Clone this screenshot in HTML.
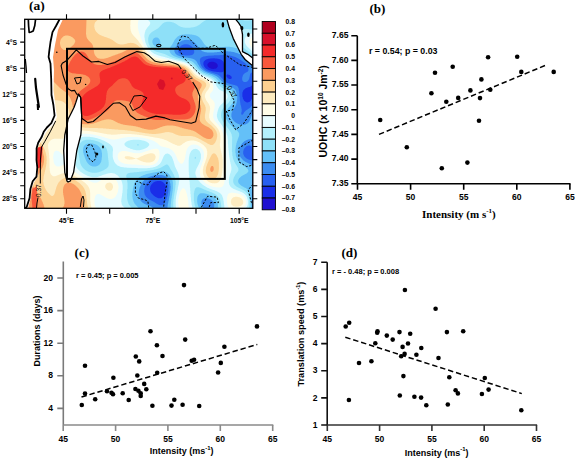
<!DOCTYPE html>
<html><head><meta charset="utf-8"><style>
html,body{margin:0;padding:0;background:#fff;width:575px;height:458px;overflow:hidden}
svg{display:block}
</style></head><body>
<svg width="575" height="458" viewBox="0 0 575 458">
<rect width="575" height="458" fill="#fff"/>
<clipPath id="mc"><rect x="24.7" y="19.3" width="228.1" height="189.0"/></clipPath>
<g clip-path="url(#mc)">
<rect x="24.7" y="19.3" width="228.1" height="189.0" fill="#2010d0"/>
<path fill-rule="evenodd" fill="#1a2ee8" d="M207.4 64.3L208.9 62.5L209.9 62.0L210.7 62.0L210.9 61.8L213.2 61.8L215.9 62.8L217.2 64.0L217.7 65.0L217.7 66.8L216.4 68.3L215.4 68.8L214.2 68.8L213.9 69.0L211.4 68.8L209.2 67.8L207.7 66.3L207.7 65.8L207.4 65.5ZM24.7 19.3L24.7 208.1L252.4 208.1L252.4 19.3Z"/>
<path fill-rule="evenodd" fill="#2860f0" d="M155.2 181.6L156.7 181.3L156.9 181.1L160.7 181.1L162.9 182.1L165.2 184.6L165.2 185.1L165.7 186.1L165.7 187.1L165.9 187.3L165.9 190.1L165.7 190.3L165.4 192.6L165.2 192.8L164.9 194.1L163.7 196.3L162.2 197.8L161.2 198.3L158.4 198.3L155.7 197.1L153.9 195.8L151.4 193.3L150.4 191.6L150.4 191.1L150.2 190.8L150.2 189.6L149.9 189.3L150.4 186.3L151.2 184.8L153.4 182.6ZM226.4 75.3L227.2 74.5L228.2 74.5L228.4 74.8L229.7 75.0L231.4 76.5L231.7 77.0L231.7 78.3L230.9 79.0L229.2 79.0L227.9 78.3L226.7 76.8ZM203.9 61.5L205.4 60.0L206.9 59.3L207.4 59.3L208.4 58.8L209.4 58.8L209.7 58.5L214.7 58.3L214.9 58.5L217.2 58.5L217.4 58.8L218.4 58.8L218.7 59.0L219.4 59.0L220.2 59.5L220.7 59.5L221.9 60.3L223.2 61.5L223.9 63.0L223.9 63.8L224.2 64.0L224.2 68.5L223.9 68.8L223.9 70.5L223.7 70.8L223.7 71.3L222.9 72.0L222.4 72.0L222.2 72.3L219.2 72.3L218.9 72.0L216.7 72.0L216.4 71.8L213.4 71.5L213.2 71.3L212.2 71.3L211.9 71.0L211.2 71.0L210.9 70.8L208.9 70.3L205.9 68.5L204.2 66.5L203.4 64.5L203.4 62.8ZM24.7 19.3L24.7 208.1L252.4 208.1L252.4 96.3L252.2 98.0L250.9 100.5L249.7 101.8L247.7 102.5L246.2 102.3L244.2 100.8L242.9 98.5L242.9 97.8L242.4 96.5L242.4 92.8L243.4 90.3L245.7 88.3L248.2 87.3L249.7 87.0L251.2 86.3L252.2 85.0L252.2 84.5L252.4 84.3L252.4 19.3Z"/>
<path fill-rule="evenodd" fill="#3c8cf0" d="M152.4 178.8L152.9 178.8L153.9 178.3L154.7 178.3L154.9 178.1L155.7 178.1L155.9 177.8L157.9 177.8L158.2 177.6L161.4 177.8L161.7 178.1L163.7 178.6L164.2 179.1L164.9 179.3L166.9 181.3L167.9 183.3L168.2 184.8L168.4 185.1L168.4 191.3L168.2 191.6L168.2 192.8L167.9 193.1L167.9 194.1L167.7 194.3L167.4 196.3L167.2 196.6L166.2 200.1L164.4 203.3L162.2 205.3L159.9 205.3L159.7 205.1L159.2 205.1L156.7 203.8L153.7 201.8L149.2 199.6L146.2 197.1L144.7 194.6L144.4 192.6L144.2 192.3L144.2 189.8L144.4 189.6L144.4 188.3L144.7 188.1L144.9 186.6L146.4 183.6L147.4 182.6L147.4 182.3L149.7 180.3ZM178.4 49.0L179.2 47.8L181.4 45.5L183.4 44.5L184.2 44.5L184.4 44.3L187.4 44.3L187.7 44.5L188.4 44.5L191.4 46.3L192.9 48.0L193.7 49.3L193.7 49.8L194.2 50.8L194.2 53.0L192.7 54.8L192.2 54.8L191.2 55.3L190.2 55.3L189.9 55.5L184.9 55.5L184.7 55.3L182.4 55.0L180.2 54.0L178.4 52.3L178.4 51.8L178.2 51.5L178.2 49.8L178.4 49.5ZM24.7 19.3L24.7 208.1L252.4 208.1L252.4 160.3L249.9 160.1L249.7 159.8L248.4 159.6L246.2 158.3L244.2 156.3L243.2 153.8L243.2 151.3L243.4 151.1L243.7 149.6L244.4 148.3L246.4 146.3L248.2 145.6L249.9 145.6L251.2 146.1L252.4 147.3L252.4 105.0L252.4 105.3L249.7 108.0L245.9 110.5L244.2 112.3L243.2 114.0L242.4 114.8L241.7 114.8L241.2 114.0L241.4 112.0L241.7 111.8L241.7 109.0L241.4 108.8L241.4 107.5L241.2 107.3L241.2 106.5L240.9 106.3L240.9 105.5L240.4 104.3L240.4 103.0L240.2 102.8L240.2 101.5L239.9 101.3L239.7 96.8L239.4 96.5L239.4 93.5L239.2 93.3L239.2 91.0L238.9 90.8L238.7 88.5L237.7 86.5L236.2 85.5L235.7 85.5L234.7 85.0L233.9 85.0L233.7 84.8L232.9 84.8L232.7 84.5L231.9 84.5L230.9 84.0L230.2 84.0L226.4 82.5L224.7 81.3L219.9 76.0L218.4 75.0L216.9 74.3L215.7 74.0L214.9 73.5L214.2 73.5L212.4 72.8L211.7 72.8L211.4 72.5L207.9 71.5L205.4 70.3L201.9 67.0L201.7 66.3L200.9 65.3L200.9 64.8L200.4 64.0L200.2 62.3L199.9 62.0L199.9 59.5L200.2 59.3L200.2 58.8L200.9 57.8L203.4 56.5L205.7 56.3L205.9 56.0L207.4 56.0L207.7 55.8L213.9 55.5L214.2 55.3L219.7 55.3L219.9 55.0L225.2 55.0L225.4 55.3L228.4 55.3L228.7 55.5L229.9 55.5L230.2 55.8L231.2 55.8L231.4 56.0L232.2 56.0L232.4 56.3L235.2 57.0L239.2 59.0L244.4 62.5L246.7 64.8L247.9 66.8L247.9 67.3L248.4 68.3L248.4 70.5L248.2 71.0L247.2 72.0L245.9 72.5L244.4 73.5L243.4 74.5L242.7 75.8L242.4 77.3L242.2 77.5L242.2 79.8L242.7 81.0L243.4 81.8L243.9 81.8L244.2 82.0L245.9 82.0L247.2 81.5L248.4 80.3L249.2 78.8L250.2 74.0L250.9 73.0L252.4 72.3L252.4 19.3Z"/>
<path fill-rule="evenodd" fill="#64c0f8" d="M24.7 19.3L24.7 208.1L152.9 208.1L152.9 207.8L151.4 206.8L149.4 205.8L148.9 205.8L148.2 205.3L146.4 204.8L143.9 203.6L142.4 202.6L140.7 200.8L139.2 198.1L139.2 197.3L138.9 197.1L138.9 196.1L138.7 195.8L138.7 192.1L138.9 191.8L138.9 190.6L139.2 190.3L139.2 189.3L139.7 188.3L139.7 187.6L140.9 185.1L140.9 184.6L141.4 184.1L142.7 181.8L145.2 179.3L147.4 177.8L150.2 176.6L150.7 176.6L151.7 176.1L152.4 176.1L152.7 175.8L153.4 175.8L153.7 175.6L156.2 175.3L156.4 175.1L162.2 175.1L162.4 175.3L163.9 175.6L165.9 176.6L167.9 178.3L169.4 180.6L169.4 181.1L169.9 181.8L170.2 183.6L170.4 183.8L170.4 185.8L170.7 186.1L170.4 191.1L170.2 191.3L169.9 194.6L169.7 194.8L169.7 195.8L169.4 196.1L169.4 197.1L169.2 197.3L169.2 198.3L168.9 198.6L168.9 199.6L168.7 199.8L168.7 200.8L168.4 201.1L168.4 202.1L168.2 202.3L168.2 203.3L167.9 203.6L167.4 208.1L203.2 208.1L201.7 205.1L201.7 204.3L201.4 204.1L201.4 201.6L202.2 199.8L203.2 198.8L205.2 198.1L206.7 198.1L206.9 198.3L207.9 198.3L208.2 198.6L209.4 198.8L211.2 199.8L212.9 201.6L214.2 204.1L214.2 207.1L213.9 207.3L213.9 208.1L252.4 208.1L252.2 201.6L251.9 201.3L251.9 192.1L252.2 191.8L252.2 190.1L252.4 189.8L252.4 165.8L250.4 164.3L245.7 162.1L243.4 160.6L240.7 157.6L239.9 156.1L239.7 154.6L239.4 154.3L239.4 149.8L239.7 149.6L239.7 148.6L239.9 148.3L239.9 147.6L240.4 146.8L240.4 146.3L241.9 143.8L244.4 141.3L247.2 139.8L247.7 139.8L248.7 139.3L249.9 139.3L250.2 139.1L252.4 139.1L252.4 113.5L251.7 115.0L251.4 116.3L250.9 117.0L250.9 117.5L249.7 120.8L248.7 122.3L247.7 123.3L245.4 124.5L244.7 124.5L244.4 124.8L240.9 124.8L240.7 124.5L239.7 124.5L237.2 123.5L234.9 122.0L233.2 120.3L231.9 118.3L231.9 117.8L231.4 116.8L231.4 113.5L231.7 113.3L231.7 112.5L233.2 109.5L234.2 108.3L236.2 104.5L236.4 103.0L236.7 102.8L236.7 101.8L236.9 101.5L236.9 99.8L237.2 99.5L237.2 96.0L236.9 95.8L236.9 94.0L236.7 93.8L236.7 93.0L236.4 92.8L236.2 91.5L235.2 89.8L232.9 87.8L229.9 86.3L229.4 86.3L228.2 85.5L227.7 85.5L224.4 83.8L221.2 80.8L221.2 80.5L218.7 77.8L216.7 76.3L213.2 74.5L212.7 74.5L212.4 74.3L209.7 73.5L208.9 73.0L207.7 72.8L206.9 72.3L206.4 72.3L202.9 70.3L201.9 69.3L201.7 69.3L199.9 67.3L198.7 65.0L198.2 64.5L196.9 62.0L196.2 61.0L194.4 59.5L191.9 58.5L191.2 58.5L190.9 58.3L188.4 58.0L188.2 57.8L186.7 57.8L186.4 57.5L184.9 57.5L184.7 57.3L183.4 57.3L183.2 57.0L182.2 57.0L181.9 56.8L181.2 56.8L180.9 56.5L179.7 56.3L178.9 55.8L177.9 55.5L176.4 54.5L175.2 53.3L174.4 51.5L174.4 49.8L175.2 47.8L177.7 44.3L179.9 42.0L182.4 40.5L183.9 40.3L184.2 40.0L185.4 40.0L185.7 39.8L189.2 40.0L189.4 40.3L190.2 40.3L190.4 40.5L191.7 40.8L194.2 42.3L196.9 45.0L199.2 48.3L201.7 50.8L202.9 51.5L203.4 51.5L204.4 52.0L205.2 52.0L205.4 52.3L206.7 52.3L206.9 52.5L214.2 52.5L214.4 52.3L216.9 52.3L217.2 52.0L219.4 52.0L219.7 51.8L221.7 51.8L221.9 51.5L225.2 51.5L225.4 51.3L228.2 51.3L228.4 51.5L230.9 51.5L231.2 51.8L233.7 52.0L233.9 52.3L234.7 52.3L234.9 52.5L237.7 53.3L238.4 53.8L238.9 53.8L244.4 56.5L249.9 60.3L252.2 62.5L252.4 63.0L252.4 19.3Z"/>
<path fill-rule="evenodd" fill="#8ee0f8" d="M87.0 143.8L87.5 143.8L87.7 143.6L89.2 143.6L89.5 143.3L91.0 143.3L91.2 143.6L92.7 143.6L93.0 143.8L93.7 143.8L94.0 144.1L94.7 144.1L95.5 144.6L96.0 144.6L98.0 145.8L100.0 147.8L101.5 150.6L101.7 152.6L102.0 152.8L102.0 157.3L101.7 157.6L101.7 159.6L101.5 159.8L101.2 161.8L99.7 164.3L98.2 165.6L96.7 166.3L96.2 166.3L96.0 166.6L92.7 166.6L90.7 165.8L89.2 164.8L88.0 163.6L86.7 161.8L85.7 159.8L85.7 159.3L85.2 158.6L85.2 158.1L84.7 157.3L84.5 156.1L83.7 154.6L83.7 153.8L83.2 152.6L83.0 149.3L83.2 149.1L83.2 147.8L83.5 147.6L83.5 147.1L84.2 145.8L85.5 144.6ZM155.4 37.5L157.2 37.5L158.2 38.0L159.4 39.3L160.2 41.0L160.2 42.3L160.4 42.5L160.2 44.5L159.7 45.5L158.9 46.3L157.9 46.8L156.2 46.8L154.7 46.0L153.2 44.5L152.4 42.8L152.4 40.8L153.2 39.0L153.9 38.3ZM24.7 19.3L24.7 208.1L138.7 208.1L138.7 207.8L138.4 207.8L134.7 203.8L133.4 201.3L133.4 200.8L132.9 199.8L132.9 199.1L132.7 198.8L132.7 197.6L132.4 197.3L132.4 192.1L132.7 191.8L132.9 188.6L133.2 188.3L133.2 187.6L133.4 187.3L133.4 186.6L133.7 186.3L133.7 185.6L133.9 185.3L134.2 184.1L135.4 181.3L136.7 179.6L138.9 177.6L140.9 176.6L141.4 176.1L142.4 175.8L143.7 175.1L144.2 175.1L146.7 174.1L150.4 173.3L150.7 173.1L151.7 173.1L151.9 172.8L152.9 172.8L153.2 172.6L154.4 172.6L154.7 172.3L155.7 172.3L155.9 172.1L157.2 172.1L157.4 171.8L158.9 171.8L159.2 171.6L164.4 171.6L164.7 171.8L165.4 171.8L167.7 173.1L169.7 175.1L170.9 176.8L171.9 178.8L171.9 179.3L172.7 181.1L172.7 182.1L172.9 182.3L172.9 189.1L172.7 189.3L172.7 191.3L172.4 191.6L172.4 193.1L172.2 193.3L172.2 194.6L171.9 194.8L171.9 196.1L171.7 196.3L171.7 197.8L171.4 198.1L171.4 199.3L171.2 199.6L171.2 201.3L170.9 201.6L170.9 204.1L170.7 204.3L170.7 207.3L170.9 207.6L170.9 208.1L199.2 208.1L198.2 206.3L198.2 205.8L197.7 204.8L197.7 204.1L197.4 203.8L197.4 202.6L197.2 202.3L197.2 198.6L197.4 198.3L197.4 197.1L198.2 195.3L199.9 193.6L200.4 193.6L200.7 193.3L204.4 193.3L204.7 193.6L206.4 193.8L207.4 194.3L208.2 194.3L208.9 194.8L210.7 195.3L213.7 197.1L215.9 199.3L217.4 202.1L217.7 203.8L217.9 204.1L217.9 207.6L217.7 208.1L250.9 208.1L250.9 200.8L250.7 200.6L250.7 197.6L250.4 197.3L250.4 195.8L250.2 195.6L250.2 194.6L249.9 194.3L249.9 193.6L249.7 193.3L249.4 192.1L248.9 191.1L247.4 189.3L245.7 188.1L243.9 187.3L243.4 186.8L242.2 186.3L240.7 185.3L238.9 183.6L238.2 182.1L238.2 180.3L239.2 178.3L241.7 176.1L246.9 173.3L248.4 171.6L248.4 170.6L247.7 169.1L245.4 166.8L241.2 163.8L238.4 161.1L237.7 160.1L235.9 156.1L235.7 153.1L235.4 152.8L235.4 148.8L235.7 148.6L235.7 146.8L235.9 146.6L235.9 145.3L236.2 145.1L236.4 143.3L236.9 142.3L236.9 141.6L237.4 140.8L237.9 138.8L238.4 138.1L238.4 137.6L238.9 136.6L238.9 135.8L239.2 135.6L239.2 133.6L238.4 132.1L236.9 130.6L233.9 128.3L228.2 122.3L226.2 118.8L226.2 118.3L225.7 117.3L225.7 116.0L225.4 115.8L225.7 113.0L226.9 110.0L228.7 107.5L230.4 105.8L230.4 105.5L232.2 103.5L233.4 101.0L233.7 99.5L233.9 99.3L233.9 98.3L234.2 98.0L234.2 95.5L233.9 95.3L233.9 94.3L233.2 92.5L230.7 89.8L229.2 88.8L224.4 86.5L222.2 85.0L219.7 82.5L218.7 81.0L215.7 78.0L211.2 75.5L210.7 75.5L209.9 75.0L208.7 74.8L207.9 74.3L206.2 73.8L204.9 73.0L204.4 73.0L200.4 70.5L198.2 68.3L195.7 64.8L193.2 62.3L191.2 61.0L190.7 61.0L189.9 60.5L189.4 60.5L188.4 60.0L187.7 60.0L187.4 59.8L186.7 59.8L185.4 59.3L184.4 59.3L184.2 59.0L183.2 59.0L182.9 58.8L181.9 58.8L181.7 58.5L178.9 58.0L174.2 56.3L171.9 54.8L170.7 53.5L169.7 51.8L169.4 49.8L169.7 49.5L169.9 48.0L170.7 46.5L172.2 44.5L174.9 39.5L177.7 36.5L179.9 35.3L180.4 35.3L181.4 34.8L182.4 34.8L182.7 34.5L184.7 34.5L184.9 34.3L189.4 34.3L189.7 34.5L191.9 34.5L192.2 34.8L193.4 34.8L193.7 35.0L195.4 35.3L197.7 36.3L199.2 37.3L201.4 39.8L204.2 44.0L206.2 46.0L208.4 47.3L208.9 47.3L209.9 47.8L211.2 47.8L211.4 48.0L215.9 48.0L216.2 47.8L218.2 47.8L218.4 47.5L220.2 47.5L220.4 47.3L222.2 47.3L222.4 47.0L224.4 47.0L224.7 46.8L229.9 46.8L230.2 47.0L233.2 47.3L233.4 47.5L234.2 47.5L234.4 47.8L237.2 48.5L238.9 49.5L239.4 49.5L240.4 50.0L240.9 50.5L242.7 51.3L243.2 51.8L246.9 53.8L248.2 54.8L250.9 56.3L252.4 57.5L252.4 19.3Z"/>
<path fill-rule="evenodd" fill="#b4f0fc" d="M195.4 156.8L195.9 157.3L195.9 158.3L195.2 159.1L194.7 158.6L194.7 157.3ZM136.9 144.8L137.7 144.3L138.2 144.3L138.7 144.6L138.9 145.1L138.4 145.6L137.7 145.6L137.2 145.3ZM81.7 141.6L84.0 140.3L84.7 140.3L86.0 139.8L91.0 139.8L91.2 140.1L92.7 140.1L93.0 140.3L94.0 140.3L94.2 140.6L95.0 140.6L95.2 140.8L98.0 141.6L101.0 143.1L103.5 144.8L104.7 146.1L104.7 146.3L105.7 147.3L107.0 149.8L107.0 150.6L107.5 151.8L107.5 153.1L107.7 153.3L108.0 158.1L108.2 158.3L108.2 159.8L108.5 160.1L108.5 161.6L108.7 161.8L108.7 165.3L108.5 165.6L108.5 166.1L108.0 167.1L106.2 168.8L104.7 169.6L104.2 170.1L102.7 170.8L102.2 170.8L101.0 171.6L100.5 171.6L98.0 172.6L97.0 172.6L96.7 172.8L94.7 172.8L94.2 173.1L94.0 172.8L92.0 172.8L91.7 172.6L90.7 172.6L90.5 172.3L88.5 171.8L85.2 170.1L83.0 168.1L81.2 165.6L80.2 163.1L80.0 161.1L79.7 160.8L79.7 159.8L79.5 159.6L79.5 158.1L79.2 157.8L79.0 154.8L78.7 154.6L78.7 152.6L78.5 152.3L78.5 148.3L78.7 148.1L79.0 145.8L80.0 143.6ZM241.7 29.8L238.2 31.8L235.2 34.5L234.4 35.5L233.7 37.3L233.7 38.5L233.9 38.8L233.9 39.3L237.7 43.3L237.9 43.3L238.9 44.3L239.2 44.3L240.2 45.3L241.4 46.0L246.7 50.3L247.7 50.8L248.4 51.5L249.4 52.0L252.4 54.3L252.4 29.6L248.9 29.3L248.7 29.1L244.7 29.1L244.4 29.3L243.4 29.3L243.2 29.6ZM239.7 19.3L240.2 19.3L241.9 20.1L242.7 20.1L242.9 20.3L243.9 20.3L244.2 20.6L249.2 20.6L249.4 20.3L251.4 20.3L251.7 20.1L252.4 20.1L252.4 19.3ZM24.7 19.3L24.7 208.1L131.7 208.1L128.9 204.6L128.2 203.1L128.2 202.6L127.5 200.8L127.5 199.8L127.2 199.6L127.0 193.8L127.2 193.6L127.2 189.3L127.5 189.1L127.5 182.6L127.2 182.3L127.2 180.8L127.0 180.6L126.7 178.6L126.5 178.3L126.5 177.1L126.2 176.8L126.2 175.8L126.7 174.6L127.7 173.6L128.9 173.1L129.7 173.1L129.9 172.8L133.7 172.6L133.9 172.3L136.7 172.3L136.9 172.1L138.9 172.1L139.2 171.8L141.2 171.8L141.4 171.6L144.9 171.3L145.2 171.1L150.2 170.6L150.4 170.3L151.7 170.3L151.9 170.1L153.2 170.1L154.4 169.6L155.4 169.6L155.7 169.3L157.2 169.1L157.4 168.8L159.4 168.3L160.2 167.8L160.7 167.8L166.2 164.6L167.4 164.6L168.9 166.1L170.7 169.6L172.4 172.1L172.9 173.3L173.9 174.8L173.9 175.3L174.4 176.1L174.4 176.6L175.2 178.3L175.2 179.3L175.4 179.6L175.4 181.1L175.7 181.3L175.7 185.1L175.4 185.3L175.4 187.6L175.2 187.8L174.9 191.1L174.7 191.3L174.7 192.6L174.4 192.8L174.4 194.1L174.2 194.3L174.2 195.6L173.9 195.8L173.9 197.3L173.7 197.6L173.7 199.1L173.4 199.3L173.4 201.8L173.2 202.1L173.2 206.3L173.4 206.6L173.4 208.1L195.7 208.1L195.7 207.6L195.2 206.8L195.2 206.3L194.7 205.3L194.4 203.1L194.2 202.8L194.2 201.3L193.9 201.1L193.9 193.1L194.2 192.8L194.2 191.6L194.4 191.3L194.7 189.8L195.4 188.3L196.7 187.3L198.9 187.3L199.2 187.6L200.4 187.8L204.7 189.8L205.2 189.8L206.4 190.6L206.9 190.6L207.7 191.1L208.2 191.1L210.9 192.3L211.4 192.3L214.9 194.1L216.4 195.1L218.4 197.1L219.4 198.6L219.7 199.6L220.2 200.3L220.7 202.8L220.9 203.1L220.9 204.8L221.2 205.1L221.2 207.8L220.9 208.1L248.7 208.1L249.4 206.1L249.4 199.8L249.2 199.6L248.9 197.1L247.7 194.1L245.2 191.3L243.7 190.3L236.7 186.8L234.7 185.1L233.4 183.1L233.4 182.3L233.2 182.1L233.2 179.6L233.4 179.3L233.7 177.8L235.7 174.3L237.9 171.6L238.4 170.6L238.4 168.8L237.9 167.6L235.7 164.3L233.9 161.1L233.9 160.6L233.4 159.8L233.4 159.3L232.9 158.3L232.7 156.3L232.4 156.1L232.2 152.1L231.9 151.8L232.2 136.8L231.9 136.6L231.7 134.6L230.4 131.8L222.7 121.0L221.7 119.0L221.7 118.5L221.2 117.5L221.2 116.5L220.9 116.3L221.2 113.0L221.4 112.8L221.4 112.0L222.4 109.5L223.9 107.3L228.9 102.3L230.7 99.3L230.9 97.5L231.2 97.3L231.2 95.8L230.9 95.5L230.9 94.8L230.4 93.5L229.7 92.5L227.7 90.8L223.2 88.5L220.9 87.0L218.7 84.8L216.4 81.5L213.7 78.8L209.7 76.5L209.2 76.5L208.4 76.0L207.9 76.0L207.2 75.5L205.4 75.0L204.2 74.3L203.7 74.3L199.4 71.8L195.7 68.0L194.4 66.3L192.4 64.3L190.7 63.0L188.2 61.8L187.7 61.8L185.9 61.0L185.2 61.0L184.9 60.8L184.2 60.8L182.9 60.3L181.9 60.3L180.7 59.8L179.7 59.8L179.4 59.5L175.7 58.8L175.4 58.5L171.9 57.5L171.2 57.0L170.7 57.0L164.7 54.0L156.4 51.8L153.9 50.5L151.2 48.0L149.9 46.3L148.4 42.8L148.4 41.8L148.2 41.5L148.2 38.0L148.4 37.8L148.4 37.0L148.7 36.8L148.9 35.5L149.9 34.0L151.9 32.0L158.2 28.3L162.7 23.6L164.7 22.3L166.4 22.1L166.7 21.8L170.4 21.8L170.7 22.1L171.7 22.1L171.9 22.3L173.4 22.6L175.9 23.8L178.7 25.8L181.2 27.1L181.9 27.1L183.2 27.6L184.4 27.6L184.7 27.8L190.4 27.8L190.7 27.6L193.7 27.3L193.9 27.1L194.7 27.1L194.9 26.8L196.2 26.6L199.4 24.8L202.4 22.3L204.7 20.8L206.7 19.8L208.7 19.3Z"/>
<path fill-rule="evenodd" fill="#e8fcff" d="M124.5 143.6L126.2 141.8L128.9 140.6L129.7 140.6L130.9 140.1L132.4 140.1L132.7 139.8L139.4 139.8L139.7 140.1L141.2 140.1L141.4 140.3L144.2 140.8L146.7 141.8L148.7 143.3L149.2 144.1L149.2 145.3L147.7 147.1L146.2 148.1L143.4 149.3L142.9 149.3L141.9 149.8L141.2 149.8L140.9 150.1L139.9 150.1L139.7 150.3L135.9 150.3L135.7 150.1L133.4 149.8L133.2 149.6L130.4 148.8L129.2 148.1L128.7 148.1L127.2 147.3L125.7 146.3L124.7 145.3L124.5 144.8ZM252.4 33.3L252.2 33.5L250.2 34.0L247.4 35.5L245.4 37.5L244.7 39.3L244.7 42.3L245.7 44.5L246.7 46.0L252.2 51.3L252.4 51.3ZM24.7 19.3L24.7 208.1L124.5 208.1L124.5 207.8L122.5 205.8L121.7 204.3L121.7 203.8L121.5 203.6L121.5 202.3L121.2 202.1L121.5 198.3L121.7 198.1L121.7 196.6L122.0 196.3L122.0 194.8L122.2 194.6L122.2 193.1L122.5 192.8L122.5 190.6L122.7 190.3L122.7 185.3L122.5 185.1L122.5 183.8L122.2 183.6L122.2 182.8L122.0 182.6L121.7 181.3L120.7 179.3L119.7 177.8L117.7 175.6L114.5 173.6L112.5 173.3L112.2 173.1L110.0 173.1L109.7 173.3L108.5 173.3L108.2 173.6L106.5 173.8L106.2 174.1L102.7 175.1L100.7 176.1L100.2 176.1L97.7 177.1L97.0 177.1L96.7 177.3L92.2 177.3L92.0 177.1L91.0 177.1L90.7 176.8L88.0 176.1L83.5 173.8L80.2 171.6L77.7 169.1L76.5 167.3L75.2 164.3L75.0 161.8L74.7 161.6L74.5 149.6L74.7 149.3L75.0 145.6L75.2 145.3L75.2 144.6L75.5 144.3L75.7 143.1L77.5 140.1L78.7 138.8L80.2 137.8L82.2 137.1L83.2 137.1L83.5 136.8L90.0 136.8L90.2 137.1L93.2 137.3L93.5 137.6L94.5 137.6L94.7 137.8L97.5 138.3L97.7 138.6L100.5 139.3L101.2 139.8L101.7 139.8L103.0 140.6L103.5 140.6L107.7 142.8L110.0 144.3L112.2 146.6L112.7 147.8L112.7 148.6L113.0 148.8L113.0 151.3L112.7 151.6L112.7 157.3L113.0 157.6L113.0 158.6L113.2 158.8L113.5 160.1L114.0 160.8L114.0 161.3L115.2 163.3L117.5 165.6L121.0 167.1L123.7 167.3L124.0 167.6L126.5 167.6L126.7 167.8L137.7 168.1L137.9 168.3L147.4 168.3L147.7 168.1L149.9 168.1L150.2 167.8L152.9 167.6L153.9 167.1L154.7 167.1L157.4 165.8L159.7 164.1L161.2 162.1L163.9 155.8L165.2 154.3L165.9 153.8L166.7 153.8L166.9 153.6L167.7 153.6L169.4 154.3L171.4 156.3L172.4 158.1L172.4 158.6L172.9 159.3L172.9 159.8L173.7 161.6L173.7 162.3L174.2 163.3L174.2 164.1L174.4 164.3L174.9 166.3L178.2 173.1L178.2 173.6L178.9 175.3L178.9 176.3L179.2 176.6L179.2 181.6L178.9 181.8L178.9 183.3L178.7 183.6L178.7 184.8L178.4 185.1L178.4 186.1L177.9 187.3L177.7 189.6L177.2 190.8L177.2 191.8L176.9 192.1L176.9 193.1L176.7 193.3L176.7 194.3L176.4 194.6L176.4 195.6L176.2 195.8L175.9 199.1L175.7 199.3L175.7 206.3L175.9 206.6L175.9 207.6L176.2 208.1L192.4 208.1L192.4 207.3L192.2 207.1L192.2 206.3L191.7 205.1L191.4 202.1L191.2 201.8L190.9 197.3L190.7 197.1L190.7 194.3L190.4 194.1L190.4 191.1L190.2 190.8L190.2 187.8L189.9 187.6L189.9 184.8L189.7 184.6L189.7 181.8L189.4 181.6L189.4 178.6L189.2 178.3L189.2 175.3L188.9 175.1L188.9 172.1L188.7 171.8L188.7 159.8L188.9 159.6L188.9 157.6L189.2 157.3L189.2 156.1L189.4 155.8L189.7 154.1L191.2 151.1L193.2 149.3L194.7 149.1L194.9 148.8L196.7 149.1L197.7 149.6L199.2 150.8L199.9 151.8L200.9 154.3L200.9 158.6L200.7 158.8L200.7 159.6L200.4 159.8L199.9 161.8L199.2 163.1L199.2 163.6L196.2 169.3L196.2 169.8L195.7 170.8L195.7 171.6L195.4 171.8L195.4 174.3L195.7 174.6L195.7 175.3L196.4 176.8L196.4 177.3L197.9 179.8L199.7 181.8L199.7 182.1L202.7 184.8L207.9 188.1L208.4 188.1L209.7 188.8L210.2 188.8L210.9 189.3L211.4 189.3L211.7 189.6L214.4 190.3L215.2 190.8L216.4 191.1L219.9 193.1L221.2 194.3L222.2 195.8L222.2 196.3L222.7 197.1L222.7 197.6L223.2 198.6L223.2 199.6L223.4 199.8L223.4 200.8L223.7 201.1L223.7 202.6L223.9 202.8L223.9 204.6L224.2 204.8L224.4 208.1L245.9 208.1L246.7 207.3L247.4 206.1L247.7 204.6L247.9 204.3L247.9 200.8L247.7 200.6L247.7 199.6L247.4 199.3L247.2 197.8L246.2 195.8L244.9 194.3L242.9 192.8L240.9 191.8L240.4 191.8L239.2 191.1L237.9 190.8L237.2 190.3L236.7 190.3L234.7 189.3L234.2 189.3L231.7 187.8L230.2 186.3L229.2 184.3L229.2 183.6L228.9 183.3L228.9 178.8L229.2 178.6L229.2 177.3L229.4 177.1L229.7 175.3L229.9 175.1L229.9 174.6L230.9 172.1L230.9 171.3L231.2 171.1L231.2 170.1L231.4 169.8L231.4 167.3L231.2 167.1L231.2 165.8L230.9 165.6L230.9 164.6L230.4 163.3L230.4 162.3L229.9 161.1L229.9 159.8L229.7 159.6L229.4 156.8L229.2 156.6L229.2 155.1L228.9 154.8L228.9 152.8L228.7 152.6L228.7 150.6L228.4 150.3L228.4 147.8L228.2 147.6L228.2 144.3L227.9 144.1L227.9 140.1L227.7 139.8L227.4 136.3L227.2 136.1L227.2 135.3L226.9 135.1L226.4 133.1L225.9 132.3L225.9 131.8L225.4 130.8L224.9 130.3L224.4 129.1L223.4 127.8L223.2 127.0L222.4 126.3L221.9 125.3L218.2 120.3L217.2 117.8L217.2 117.0L216.9 116.8L216.9 114.3L217.2 114.0L217.2 112.8L217.4 112.5L217.4 111.8L217.7 111.5L217.9 110.0L218.4 109.3L218.4 108.8L219.4 106.8L220.9 104.8L224.9 101.3L225.2 101.3L226.9 99.0L227.4 97.8L227.4 97.0L227.7 96.8L227.2 94.5L226.2 93.3L224.4 92.0L220.4 90.3L218.7 89.0L216.7 86.5L215.7 84.3L215.2 83.8L213.9 81.5L212.4 80.0L210.7 78.8L207.2 77.0L206.7 77.0L205.9 76.5L204.2 76.0L202.9 75.3L202.4 75.3L198.2 72.8L190.9 65.3L188.7 63.8L183.4 61.8L182.7 61.8L181.4 61.3L180.4 61.3L179.2 60.8L178.2 60.8L177.9 60.5L176.9 60.5L175.7 60.0L174.7 60.0L174.4 59.8L172.7 59.5L171.7 59.0L169.9 58.8L168.2 58.0L167.4 58.0L166.4 57.5L165.7 57.5L164.7 57.0L163.9 57.0L163.7 56.8L160.9 56.3L159.9 55.8L159.2 55.8L154.2 53.8L151.4 51.8L148.9 49.0L147.4 46.8L145.9 43.8L145.9 43.3L145.4 42.5L144.9 39.8L144.7 39.5L144.7 37.8L144.4 37.5L144.4 34.5L144.7 34.3L144.7 33.0L144.9 32.8L144.9 32.0L145.2 31.8L145.4 30.6L147.2 27.8L149.4 25.3L150.2 23.8L150.2 22.6L149.4 21.3L148.4 20.3L148.2 20.3L147.2 19.3Z"/>
<path fill-rule="evenodd" fill="#fffde8" d="M228.2 194.1L227.7 194.8L227.7 195.3L227.2 196.3L227.2 197.6L226.9 197.8L226.9 202.6L227.2 202.8L227.2 204.3L227.4 204.6L227.7 206.1L228.9 208.1L242.2 208.1L242.7 207.6L244.2 206.8L245.4 205.3L245.4 204.8L245.9 203.8L245.9 200.8L245.7 200.6L245.7 199.8L244.7 197.8L243.9 196.8L242.4 195.6L240.2 194.3L239.7 194.3L237.9 193.6L235.9 193.3L235.7 193.1L233.9 193.1L233.7 192.8L230.9 192.8L230.7 193.1L229.7 193.1ZM182.9 188.3L182.4 188.6L180.9 190.3L180.4 191.3L180.4 191.8L179.9 192.6L179.9 193.1L179.4 194.1L179.4 194.8L179.2 195.1L179.2 195.8L178.9 196.1L178.9 197.1L178.7 197.3L178.7 198.3L178.4 198.6L178.4 200.6L178.2 200.8L178.2 203.6L178.4 203.8L178.4 205.6L178.7 205.8L178.7 206.6L178.9 206.8L179.2 208.1L188.7 208.1L188.7 205.8L188.4 205.6L188.2 201.1L187.9 200.8L187.7 197.6L187.4 197.3L187.4 196.3L187.2 196.1L186.9 194.1L186.7 193.8L185.9 191.1L184.9 189.3L184.2 188.6ZM159.4 151.8L158.7 149.8L158.2 149.3L156.9 148.8L154.7 148.8L154.4 149.1L153.2 149.1L152.9 149.3L151.2 149.6L150.9 149.8L150.4 149.8L150.2 150.1L149.7 150.1L149.4 150.3L148.9 150.3L148.7 150.6L148.2 150.6L147.9 150.8L147.4 150.8L141.9 152.8L139.9 153.1L139.7 153.3L134.9 153.3L134.7 153.1L133.4 153.1L133.2 152.8L132.4 152.8L132.2 152.6L131.4 152.6L131.2 152.3L130.4 152.3L129.2 151.8L128.2 151.8L127.0 151.3L125.7 151.3L125.5 151.1L122.2 151.1L119.7 152.1L118.7 153.1L118.0 154.3L117.5 156.8L117.7 157.1L118.0 158.8L118.5 159.8L119.7 161.3L121.5 162.6L124.7 163.8L127.5 164.1L127.7 164.3L130.9 164.3L131.2 164.6L136.4 164.6L136.7 164.8L139.2 164.8L139.4 165.1L143.4 165.3L143.7 165.6L149.9 165.6L150.2 165.3L151.4 165.3L151.7 165.1L153.2 164.8L155.9 163.3L157.4 161.8L158.9 159.1L159.2 157.6L159.4 157.3L159.4 155.1L159.7 154.8L159.7 154.1L159.4 153.8ZM252.4 37.0L251.9 37.3L250.2 39.3L249.4 41.3L249.4 43.3L249.7 43.5L249.7 44.3L251.4 47.3L252.4 48.3ZM24.7 19.3L24.7 208.1L96.0 208.1L95.0 206.1L94.7 204.6L94.5 204.3L94.5 199.3L94.7 199.1L94.7 198.1L95.0 197.8L95.2 196.6L95.7 195.6L97.0 194.3L97.5 194.1L99.2 194.1L99.5 194.3L100.0 194.3L107.2 198.3L107.7 198.3L108.7 198.8L109.5 198.8L109.7 199.1L111.7 199.1L112.0 198.8L112.5 198.8L114.0 198.1L116.0 196.1L116.2 195.3L117.0 194.3L117.0 193.8L117.5 193.1L117.5 192.6L118.0 191.6L118.2 189.1L118.5 188.8L118.5 185.8L118.2 185.6L118.2 184.6L118.0 184.3L118.0 183.6L117.5 182.8L117.5 182.3L116.5 180.8L115.0 179.3L113.5 178.3L113.0 178.3L112.2 177.8L111.5 177.8L111.2 177.6L108.0 177.6L107.7 177.8L106.7 177.8L106.5 178.1L104.5 178.6L101.0 180.3L100.5 180.8L99.2 181.3L98.7 181.8L97.2 182.6L96.7 182.6L96.5 182.8L93.7 182.8L93.5 182.6L92.2 182.3L91.0 181.6L90.5 181.6L88.5 180.6L88.0 180.1L85.7 179.1L85.2 178.6L84.0 178.1L80.2 175.6L79.5 175.3L78.0 174.1L76.2 173.1L72.7 170.1L72.5 170.1L66.5 163.6L65.2 163.6L63.0 165.1L59.5 166.6L57.0 166.6L56.0 166.1L54.5 164.3L53.7 162.3L53.5 159.3L53.2 159.1L53.2 155.6L53.5 155.3L53.5 153.8L54.2 152.1L55.5 150.8L56.2 150.8L56.5 150.6L56.7 150.8L58.2 151.1L59.5 151.8L63.2 155.6L64.2 157.1L65.5 158.3L66.0 158.6L67.0 158.3L68.0 156.8L68.0 156.3L68.5 155.6L68.5 155.1L69.0 154.1L71.2 142.8L71.5 142.6L72.0 140.6L73.0 138.6L75.7 135.6L77.7 134.6L79.2 134.3L79.5 134.1L80.5 134.1L80.7 133.8L88.0 133.8L88.2 134.1L90.2 134.1L90.5 134.3L93.2 134.6L93.5 134.8L94.5 134.8L94.7 135.1L95.7 135.1L96.0 135.3L97.0 135.3L97.2 135.6L100.0 136.1L100.2 136.3L101.7 136.6L102.7 137.1L103.5 137.1L106.0 138.1L106.7 138.1L108.5 138.8L109.2 138.8L110.5 139.3L112.0 139.3L112.2 139.6L115.2 139.6L115.5 139.3L117.0 139.3L117.2 139.1L118.2 139.1L119.5 138.6L120.5 138.6L120.7 138.3L121.5 138.3L122.7 137.8L125.2 137.6L125.5 137.3L127.2 137.3L127.5 137.1L137.7 137.1L137.9 137.3L139.9 137.3L140.2 137.6L143.2 137.8L143.4 138.1L145.7 138.3L145.9 138.6L147.7 138.8L148.7 139.3L149.4 139.3L149.7 139.6L150.9 139.8L151.7 140.3L152.2 140.3L152.9 140.8L153.4 140.8L157.2 143.1L159.4 145.3L161.4 146.6L162.9 146.8L163.2 147.1L165.7 147.3L165.9 147.6L166.7 147.6L166.9 147.8L168.9 148.3L172.2 150.3L173.9 152.1L175.2 154.3L175.7 154.8L175.9 155.8L177.2 158.3L177.2 158.8L178.4 161.3L180.4 163.6L180.9 163.6L181.2 163.8L181.7 163.8L182.7 163.3L183.9 161.6L183.9 161.1L184.7 159.6L184.9 157.8L185.2 157.6L185.2 156.6L185.4 156.3L185.4 155.1L185.7 154.8L186.2 151.3L186.4 151.1L186.7 149.8L187.9 147.6L189.4 146.1L191.9 144.8L192.7 144.8L192.9 144.6L195.4 144.6L195.7 144.8L197.2 145.1L199.9 146.6L202.4 149.1L203.2 150.3L203.2 150.8L203.7 151.6L203.7 152.3L203.9 152.6L203.9 154.6L204.2 155.1L203.9 155.3L203.9 157.6L203.7 157.8L203.7 158.8L203.4 159.1L203.2 160.6L202.9 160.8L202.7 162.1L202.2 162.8L201.7 164.8L201.2 165.6L201.2 166.1L200.2 168.6L200.2 169.6L199.9 169.8L199.9 174.1L200.2 174.3L200.4 176.1L201.7 178.8L202.7 180.3L205.9 183.6L208.2 184.8L208.7 185.3L211.9 186.6L212.7 186.6L213.9 187.1L214.9 187.1L215.2 187.3L219.9 187.6L220.2 187.3L221.2 187.3L222.2 186.8L223.2 185.8L224.2 183.3L224.2 182.6L224.4 182.3L224.4 181.1L224.7 180.8L224.7 179.6L224.9 179.3L224.9 178.1L225.2 177.8L225.2 176.6L225.4 176.3L225.4 175.1L225.7 174.8L225.7 173.6L225.9 173.3L225.9 171.8L226.2 171.6L226.2 169.8L226.4 169.6L226.4 161.1L226.2 160.8L226.2 158.1L225.9 157.8L225.7 154.1L225.4 153.8L225.2 150.8L224.9 150.6L224.9 149.3L224.7 149.1L224.7 147.8L224.4 147.6L224.4 145.8L224.2 145.6L223.9 138.1L223.7 137.8L223.7 136.1L223.4 135.8L223.2 133.8L222.9 133.6L222.4 131.6L220.7 128.3L217.9 124.5L215.2 121.5L214.2 120.0L213.2 117.5L213.2 113.5L213.4 113.3L213.7 111.0L213.9 110.8L214.2 108.8L214.4 108.5L214.4 107.5L214.7 107.3L214.7 103.3L213.4 100.8L210.7 98.3L209.7 96.3L209.9 94.5L210.4 93.5L212.7 90.8L213.2 89.5L213.2 88.8L213.4 88.5L213.2 85.3L212.2 82.8L210.2 80.5L208.7 79.5L205.7 78.0L205.2 78.0L202.7 76.8L202.2 76.8L197.9 74.5L196.9 73.8L189.7 66.3L186.4 64.3L185.9 64.3L183.9 63.3L183.2 63.3L182.9 63.0L180.4 62.5L180.2 62.3L179.2 62.3L178.9 62.0L177.9 62.0L177.7 61.8L176.7 61.8L176.4 61.5L175.4 61.5L175.2 61.3L174.2 61.3L173.9 61.0L170.4 60.5L169.2 60.0L166.9 59.8L165.7 59.3L164.7 59.3L164.4 59.0L163.4 59.0L163.2 58.8L162.2 58.8L161.9 58.5L158.2 57.8L157.9 57.5L155.9 57.0L155.2 56.5L154.7 56.5L151.4 54.5L147.7 50.8L144.4 46.0L142.4 42.0L142.4 41.5L140.9 38.3L140.4 36.3L139.9 35.5L139.9 35.0L138.9 32.5L138.9 31.8L138.4 30.8L138.4 29.8L138.2 29.6L138.2 28.6L137.9 28.3L137.9 22.8L138.2 22.6L138.2 21.3L138.4 21.1L138.4 19.8L138.7 19.3Z"/>
<path fill-rule="evenodd" fill="#fdebc0" d="M231.4 199.3L231.2 200.6L230.9 200.8L230.9 203.1L231.2 203.3L231.4 204.6L233.4 206.3L235.2 206.6L235.4 206.8L239.2 206.6L239.4 206.3L240.7 206.1L242.2 205.1L243.2 203.3L243.2 201.3L242.7 200.1L241.2 198.3L239.4 197.3L237.7 197.1L237.4 196.8L235.2 196.8L234.9 197.1L233.4 197.3L232.7 197.8ZM107.2 183.1L106.5 183.6L105.5 184.8L105.5 185.3L105.2 185.6L105.2 187.3L106.0 188.8L107.2 190.1L108.7 190.8L110.5 190.8L111.5 190.3L112.5 189.1L112.5 188.6L113.0 187.6L113.0 185.8L112.7 185.6L112.7 185.1L112.2 184.1L110.7 182.8L109.0 182.6L108.7 182.8ZM155.7 156.8L154.9 154.8L153.9 153.8L152.7 153.6L152.4 153.3L150.2 153.3L149.9 153.6L148.9 153.6L148.7 153.8L147.9 153.8L147.7 154.1L144.9 154.8L141.9 156.3L141.4 156.3L138.7 157.8L138.2 157.8L137.4 158.3L136.7 158.3L136.4 158.6L135.7 158.6L131.2 156.8L130.4 156.8L129.2 156.3L127.5 156.3L127.2 156.1L127.0 156.3L125.7 156.3L125.2 156.6L124.7 157.3L124.7 157.8L125.0 158.3L126.0 159.1L127.2 159.3L127.5 159.6L129.2 159.6L129.4 159.8L129.9 159.8L130.2 159.6L132.4 159.6L132.7 159.3L133.7 159.3L133.9 159.1L134.9 159.1L135.2 158.8L136.4 158.8L141.4 161.3L141.9 161.3L143.7 162.1L145.7 162.3L145.9 162.6L150.2 162.6L150.4 162.3L151.9 162.1L153.4 161.3L154.7 160.1L155.4 158.6ZM24.7 19.3L24.7 208.1L91.7 208.1L91.2 207.1L91.2 206.3L90.7 205.1L90.7 204.1L90.5 203.8L90.5 201.8L90.2 201.6L90.2 192.6L90.0 192.3L90.0 190.6L89.7 190.3L89.7 189.6L89.5 189.3L89.2 188.1L87.7 185.6L85.0 182.8L79.0 178.6L78.2 178.3L77.0 177.3L76.2 177.1L74.5 175.8L69.2 173.3L67.0 173.1L66.7 172.8L64.0 173.1L63.7 173.3L62.7 173.3L62.5 173.6L61.2 173.8L60.5 174.3L60.0 174.3L59.2 174.8L58.7 174.8L58.0 175.3L57.5 175.3L56.7 175.8L56.2 175.8L55.2 176.3L53.0 176.3L51.0 174.6L50.2 172.8L50.0 170.8L49.7 170.6L49.7 168.3L49.5 168.1L49.5 158.6L49.2 158.3L49.2 155.1L49.0 154.8L49.0 152.8L48.7 152.6L48.7 150.8L48.5 150.6L48.5 149.1L48.2 148.8L48.2 146.6L48.0 146.3L48.2 143.8L49.0 142.1L51.0 140.1L53.0 139.1L53.7 139.1L54.0 138.8L60.5 138.8L60.7 139.1L61.0 138.8L62.5 138.8L63.5 138.3L65.0 136.6L67.0 132.8L68.2 131.6L69.5 130.8L71.7 130.6L72.0 130.3L79.0 130.3L79.2 130.6L83.7 130.6L84.0 130.8L89.2 131.1L89.5 131.3L91.2 131.3L91.5 131.6L93.0 131.6L93.2 131.8L94.7 131.8L95.0 132.1L96.2 132.1L96.5 132.3L97.5 132.3L97.7 132.6L99.0 132.6L99.2 132.8L100.2 132.8L100.5 133.1L101.5 133.1L101.7 133.3L102.7 133.3L103.0 133.6L104.0 133.6L104.2 133.8L105.5 133.8L105.7 134.1L106.7 134.1L107.0 134.3L111.0 134.6L111.2 134.8L117.5 134.6L117.7 134.3L120.2 134.3L120.5 134.1L131.4 134.1L131.7 134.3L134.4 134.3L134.7 134.6L136.9 134.6L137.2 134.8L138.9 134.8L139.2 135.1L142.7 135.3L142.9 135.6L144.2 135.6L144.4 135.8L148.7 136.3L148.9 136.6L149.9 136.6L150.2 136.8L152.9 137.1L153.2 137.3L154.2 137.3L154.4 137.6L158.7 138.1L158.9 138.3L159.9 138.3L160.2 138.6L161.9 138.8L162.9 139.3L163.7 139.3L164.4 139.8L166.2 140.3L173.9 144.3L174.4 144.3L175.7 145.1L176.2 145.1L177.7 145.8L179.9 145.8L181.7 144.8L182.7 143.8L184.9 142.6L185.4 142.1L187.9 141.1L188.7 141.1L188.9 140.8L190.2 140.8L190.4 140.6L193.9 140.6L194.2 140.8L195.2 140.8L195.4 141.1L196.9 141.3L198.2 142.1L198.7 142.1L199.7 142.6L203.4 145.1L205.9 147.8L206.7 149.3L206.9 150.8L207.2 151.1L207.2 155.1L206.9 155.3L206.9 156.6L206.7 156.8L206.4 158.6L206.2 158.8L204.9 163.1L204.4 163.8L204.4 164.3L203.4 166.8L203.2 168.8L202.9 169.1L202.9 173.6L203.2 173.8L203.2 174.6L204.2 177.1L205.9 179.6L207.2 180.8L208.9 182.1L211.2 183.1L211.9 183.1L212.2 183.3L213.9 183.3L214.2 183.6L214.7 183.3L216.4 183.3L218.2 182.6L219.7 181.1L220.7 179.3L220.7 178.8L221.2 177.8L221.2 177.1L221.4 176.8L221.4 176.1L221.7 175.8L221.9 173.1L222.2 172.8L222.2 171.1L222.4 170.8L222.4 168.3L222.7 168.1L222.7 159.3L222.4 159.1L222.4 157.1L222.2 156.8L222.2 155.6L221.7 154.3L221.7 153.3L221.4 153.1L221.2 151.3L220.7 150.3L220.7 149.3L220.2 148.1L220.2 146.6L219.9 146.3L219.9 143.3L220.2 143.1L220.2 140.6L220.4 140.3L220.4 135.6L220.2 135.3L219.9 133.1L218.4 129.6L216.4 126.8L210.4 120.5L209.7 119.3L209.7 118.8L209.2 117.8L209.2 114.3L209.4 114.0L209.4 112.8L209.7 112.5L209.7 111.3L209.9 111.0L209.9 109.5L210.2 109.3L209.9 106.5L208.7 103.8L206.2 100.3L204.9 97.0L204.9 95.0L205.2 94.8L205.2 94.0L206.4 91.8L208.7 89.0L208.9 88.3L209.4 87.8L209.4 87.3L209.9 86.3L209.9 84.5L209.2 82.8L208.4 81.8L205.9 80.0L204.4 79.3L203.9 79.3L202.7 78.5L202.2 78.5L200.4 77.5L199.9 77.5L196.2 75.3L193.2 72.5L191.7 70.5L188.2 67.0L184.2 64.8L183.7 64.8L181.2 63.8L179.2 63.5L178.9 63.3L177.9 63.3L177.7 63.0L176.7 63.0L176.4 62.8L175.2 62.8L174.9 62.5L173.7 62.5L173.4 62.3L172.2 62.3L171.9 62.0L170.7 62.0L170.4 61.8L169.2 61.8L168.9 61.5L167.7 61.5L167.4 61.3L166.2 61.3L165.9 61.0L161.7 60.5L161.4 60.3L160.4 60.3L159.2 59.8L157.2 59.5L156.9 59.3L154.9 58.8L154.2 58.3L153.7 58.3L150.4 56.3L146.2 52.0L143.2 48.0L140.7 44.0L139.9 43.3L137.9 40.3L133.2 35.3L131.9 33.5L131.2 32.0L131.2 31.6L130.7 30.6L130.7 29.6L130.4 29.3L130.4 26.6L130.2 26.3L130.2 25.3L130.4 25.1L130.4 21.3L130.7 21.1L130.7 19.3Z"/>
<path fill-rule="evenodd" fill="#fdd090" d="M213.9 153.3L212.7 153.8L211.7 154.8L208.7 160.6L208.7 161.1L207.9 162.3L207.9 162.8L207.4 163.6L207.4 164.1L206.9 164.8L206.9 165.3L206.2 167.1L205.9 169.8L205.7 170.1L205.9 172.8L207.2 175.8L209.2 178.1L211.2 179.1L213.9 179.1L214.2 178.8L214.7 178.8L216.9 176.8L218.2 173.8L218.4 171.8L218.7 171.6L218.7 169.8L218.9 169.6L218.9 162.3L218.7 162.1L218.7 160.6L218.4 160.3L218.2 158.6L216.4 155.1L215.2 153.8ZM24.7 126.8L24.7 208.1L88.0 208.1L88.0 207.3L87.5 206.1L87.5 205.1L87.2 204.8L87.2 203.6L87.0 203.3L87.0 201.3L86.7 201.1L86.7 198.8L86.5 198.6L86.2 194.8L86.0 194.6L86.0 193.6L85.7 193.3L85.5 191.6L84.2 188.6L82.7 186.3L79.7 183.3L76.2 180.8L72.0 178.6L71.5 178.6L69.7 177.8L66.5 177.6L66.2 177.8L65.2 177.8L63.7 178.6L63.2 178.6L61.0 180.1L59.0 182.1L58.0 183.6L56.5 186.8L54.5 193.8L54.0 194.8L53.0 195.8L52.5 196.1L51.2 195.8L48.0 192.8L46.2 190.3L44.5 187.1L44.5 186.6L43.7 184.8L43.5 182.3L43.2 182.1L43.2 179.8L43.5 179.6L43.7 176.3L44.0 176.1L44.0 175.1L44.5 173.8L44.5 172.8L44.7 172.6L44.7 171.8L45.0 171.6L45.0 170.8L45.5 169.6L45.5 168.6L45.7 168.3L45.7 167.3L46.0 167.1L46.0 166.1L46.2 165.8L46.2 164.3L46.5 164.1L46.5 161.1L46.7 160.8L46.5 156.1L46.2 155.8L46.2 154.6L46.0 154.3L45.7 152.6L45.5 152.3L45.0 150.3L44.5 149.6L44.5 149.1L43.7 147.6L43.2 147.1L42.7 145.8L40.7 142.8L39.2 139.3L39.2 138.3L39.0 138.1L39.0 134.6L39.2 134.3L39.2 132.8L39.0 132.6L39.0 132.1L37.7 130.6L36.2 129.8L35.7 129.8L34.7 129.3L34.0 129.3L33.7 129.1L31.7 128.8L31.4 128.6L30.4 128.6L30.2 128.3L28.2 128.1L27.9 127.8ZM24.7 19.3L24.7 100.5L35.7 100.5L36.0 100.3L57.5 100.3L57.7 100.5L59.2 100.5L59.5 100.8L60.5 100.8L60.7 101.0L62.0 101.3L64.2 102.5L66.7 105.0L68.0 107.3L68.0 107.8L68.7 109.5L69.0 111.3L69.2 111.5L69.2 112.5L69.5 112.8L69.5 113.8L69.7 114.0L69.7 115.0L70.0 115.3L70.0 116.3L70.2 116.5L70.5 118.3L72.2 122.3L74.0 124.3L76.2 125.8L76.7 125.8L77.5 126.3L78.0 126.3L79.0 126.8L80.7 127.0L81.0 127.3L84.7 127.5L85.0 127.8L88.7 127.8L89.0 128.1L97.7 128.1L98.0 128.3L103.0 128.3L103.2 128.6L106.0 128.6L106.2 128.8L108.7 128.8L109.0 129.1L111.5 129.1L111.7 129.3L114.5 129.3L114.7 129.6L118.0 129.6L118.2 129.8L124.7 130.1L125.0 130.3L127.2 130.3L127.5 130.6L131.2 130.8L131.4 131.1L134.4 131.3L134.7 131.6L135.9 131.6L136.2 131.8L137.4 131.8L137.7 132.1L138.9 132.1L139.2 132.3L140.4 132.3L140.7 132.6L141.9 132.6L142.2 132.8L143.4 132.8L143.7 133.1L144.9 133.1L145.2 133.3L148.7 133.6L148.9 133.8L151.4 133.8L151.7 134.1L156.2 134.1L156.4 133.8L158.4 133.8L158.7 133.6L160.2 133.6L160.4 133.3L161.4 133.3L161.7 133.1L163.7 132.8L163.9 132.6L164.9 132.6L165.2 132.3L168.7 132.1L168.9 132.3L170.2 132.3L170.4 132.6L172.2 132.8L176.4 134.8L176.9 134.8L178.7 135.6L179.4 135.6L179.7 135.8L180.9 135.8L181.2 136.1L191.4 136.1L191.7 136.3L192.9 136.3L193.2 136.6L194.9 136.8L197.4 138.1L197.9 138.1L198.4 138.6L201.2 139.8L201.7 140.3L206.9 143.1L207.4 143.6L210.7 145.1L212.4 145.1L213.7 144.3L215.2 142.6L216.4 140.1L216.7 138.6L216.9 138.3L216.9 137.1L217.2 136.8L217.2 134.3L216.9 134.1L216.9 133.1L216.7 132.8L216.4 131.6L214.9 129.1L211.2 125.3L208.4 123.3L206.2 121.0L205.2 119.3L205.2 118.5L204.9 118.3L204.9 114.5L205.2 114.3L205.2 113.0L205.4 112.8L205.4 111.5L205.7 111.3L205.7 107.3L205.4 107.0L205.2 105.8L202.7 101.3L202.7 100.8L202.2 100.0L202.2 99.5L201.7 98.5L201.7 97.5L201.4 97.3L201.4 94.8L201.7 94.5L201.7 93.8L202.2 93.0L202.4 92.0L205.9 86.8L205.9 86.3L206.2 86.0L206.2 84.0L205.7 83.0L204.2 81.5L201.4 80.0L200.9 80.0L196.9 78.0L194.4 76.3L192.2 74.0L192.2 73.8L190.9 72.5L188.7 69.5L185.2 66.8L183.2 65.8L182.7 65.8L180.9 65.0L179.2 64.8L178.9 64.5L176.4 64.3L176.2 64.0L174.9 64.0L174.7 63.8L173.2 63.8L172.9 63.5L171.2 63.5L170.9 63.3L169.2 63.3L168.9 63.0L167.2 63.0L166.9 62.8L165.4 62.8L165.2 62.5L163.4 62.5L163.2 62.3L161.9 62.3L161.7 62.0L160.2 62.0L159.9 61.8L157.7 61.5L157.4 61.3L156.7 61.3L156.4 61.0L155.7 61.0L155.4 60.8L153.4 60.3L150.4 58.8L148.4 57.0L148.2 57.0L144.4 53.0L144.4 52.8L143.2 51.5L141.2 48.8L137.7 45.3L134.7 43.5L134.2 43.5L133.2 43.0L131.4 43.0L131.2 42.8L130.4 42.8L130.2 43.0L128.4 43.0L128.2 43.3L127.5 43.3L126.5 43.8L125.7 43.8L125.5 44.0L123.7 44.3L123.5 44.5L120.2 44.5L120.0 44.3L118.5 44.0L116.5 43.0L112.5 40.0L109.0 38.3L108.5 38.3L107.0 37.5L104.2 36.8L103.5 36.3L103.0 36.3L99.7 34.8L98.2 33.8L96.0 31.6L95.0 29.8L95.0 29.3L94.5 28.3L94.5 27.1L94.2 26.8L94.5 24.1L95.2 22.3L97.5 20.1L99.0 19.3Z"/>
<path fill-rule="evenodd" fill="#fa9a60" d="M65.5 183.8L64.7 184.6L63.7 186.3L63.7 186.8L63.2 187.8L63.2 188.8L63.0 189.1L63.0 192.8L63.2 193.1L63.2 194.8L63.5 195.1L63.5 196.1L63.7 196.3L63.7 197.3L64.0 197.6L64.0 198.6L64.2 198.8L64.2 200.3L64.5 200.6L64.5 204.1L64.2 204.3L64.0 205.8L62.5 208.1L84.2 208.1L84.2 207.3L83.7 206.1L83.7 205.1L83.5 204.8L83.5 203.8L83.2 203.6L83.2 202.1L83.0 201.8L83.0 200.6L82.7 200.3L82.7 199.1L82.5 198.8L82.5 197.8L82.2 197.6L82.0 195.6L81.7 195.3L81.2 193.3L79.7 190.3L78.5 188.6L75.2 185.3L73.0 183.8L72.0 183.6L71.2 183.1L70.7 183.1L70.5 182.8L67.2 182.8ZM212.7 166.1L211.7 166.1L210.9 166.8L210.2 168.8L210.2 170.3L210.4 170.6L210.4 171.1L211.4 172.1L212.4 171.8L213.2 171.1L213.7 169.8L213.7 167.6L213.4 167.3L213.4 166.8ZM29.9 144.1L27.4 145.1L26.7 145.6L24.9 147.6L24.7 147.6L24.7 173.6L25.2 174.1L25.9 175.6L25.9 176.1L26.9 177.6L28.2 180.3L28.7 180.8L29.7 183.1L29.7 185.1L29.4 185.3L29.4 185.8L26.2 192.1L26.2 192.6L25.4 193.8L25.2 195.1L24.7 195.3L24.7 208.1L44.5 208.1L43.5 204.3L43.0 203.6L42.7 202.3L41.7 200.6L41.7 200.1L40.7 198.1L40.2 197.6L38.2 193.8L33.7 187.3L32.5 184.6L32.5 183.8L32.7 183.6L33.0 182.3L39.7 172.8L42.7 167.1L42.7 166.6L43.5 164.8L43.5 164.1L43.7 163.8L43.7 162.8L44.0 162.6L44.0 160.6L44.2 160.3L44.0 156.1L43.7 155.8L43.7 155.1L43.5 154.8L43.0 152.8L42.2 151.3L40.5 148.8L38.7 147.1L37.0 145.8L34.5 144.6L33.0 144.3L32.7 144.1ZM68.2 35.5L68.5 35.8L70.0 36.0L72.7 37.5L74.7 39.5L75.2 40.8L75.2 41.8L74.0 44.3L69.7 48.3L68.2 49.3L66.5 50.0L64.0 50.0L63.0 49.5L61.2 47.8L60.5 46.3L60.2 44.5L60.0 44.3L60.0 42.3L60.2 42.0L60.2 41.0L61.0 39.0L63.2 36.5L65.5 35.5ZM24.7 19.3L24.7 81.8L26.9 83.0L27.4 83.0L28.4 83.5L29.4 83.5L29.7 83.8L32.2 83.8L32.5 83.5L33.7 83.5L34.0 83.3L35.7 83.0L36.0 82.8L38.0 82.3L38.7 81.8L39.2 81.8L42.5 80.5L44.2 80.3L44.5 80.0L45.7 80.0L46.0 79.8L48.7 79.8L49.0 80.0L50.0 80.0L50.2 80.3L51.5 80.5L54.2 82.3L60.0 88.0L65.7 92.3L67.7 94.3L69.2 96.3L70.5 98.5L70.5 99.0L71.2 100.3L71.2 100.8L72.0 102.5L72.0 103.3L72.2 103.5L72.2 104.3L72.7 105.5L72.7 106.5L73.0 106.8L73.0 108.0L73.2 108.3L73.7 113.3L74.0 113.5L74.0 114.5L74.2 114.8L74.7 117.3L75.2 118.0L75.5 119.0L76.5 120.5L78.0 122.0L79.5 123.0L82.2 124.0L83.2 124.0L83.5 124.3L89.7 124.3L90.0 124.0L91.2 124.0L91.5 123.8L93.5 123.5L93.7 123.3L97.2 122.3L98.0 121.8L98.5 121.8L102.5 120.3L103.2 120.3L104.5 119.8L105.5 119.8L105.7 119.5L109.2 119.3L109.5 119.5L111.0 119.5L111.2 119.8L112.5 120.0L118.7 123.3L119.2 123.3L121.7 124.3L122.5 124.3L123.7 124.8L124.7 124.8L125.0 125.0L126.5 125.0L126.7 125.3L128.4 125.3L128.7 125.5L130.7 125.5L130.9 125.8L132.7 125.8L132.9 126.0L135.7 126.3L135.9 126.5L137.7 126.8L138.7 127.3L139.4 127.3L142.7 128.6L143.4 128.6L144.4 129.1L145.4 129.1L145.7 129.3L146.7 129.3L146.9 129.6L148.2 129.6L148.4 129.8L152.9 129.8L153.2 129.6L154.4 129.6L154.7 129.3L155.4 129.3L155.7 129.1L156.9 128.8L157.7 128.3L158.9 128.1L160.9 127.0L161.4 127.0L163.2 126.3L164.9 126.0L165.2 125.8L166.4 125.8L166.7 125.5L173.2 125.5L173.4 125.8L174.7 125.8L174.9 126.0L175.9 126.0L176.2 126.3L177.9 126.5L178.2 126.8L178.7 126.8L180.4 127.5L181.2 127.5L182.9 128.3L183.7 128.3L184.7 128.8L185.7 128.8L185.9 129.1L187.9 129.3L188.2 129.6L190.2 129.8L191.2 130.3L192.7 130.6L195.4 131.8L203.4 137.3L206.7 138.8L207.4 138.8L207.7 139.1L210.4 139.1L211.4 138.6L212.7 137.3L213.4 135.6L213.4 133.1L212.4 130.8L211.2 129.3L210.9 129.3L208.9 127.5L204.9 125.5L201.9 123.5L200.4 121.8L199.7 119.8L199.7 117.0L199.9 116.8L199.9 115.5L200.2 115.3L200.2 114.3L200.4 114.0L200.7 112.0L200.9 111.8L201.2 108.0L200.9 107.8L200.7 105.8L199.9 104.3L199.7 103.0L199.2 102.3L199.2 101.8L198.4 100.0L198.2 98.3L197.9 98.0L197.9 94.0L198.2 93.8L198.4 92.5L198.9 91.8L198.9 91.3L199.4 90.8L200.4 88.5L201.2 87.5L201.2 87.0L201.7 86.0L201.7 84.5L201.2 83.5L200.2 82.5L194.2 79.0L190.9 75.8L187.9 71.3L184.4 68.0L181.9 66.8L181.4 66.8L179.7 66.0L178.9 66.0L178.7 65.8L177.7 65.8L177.4 65.5L174.2 65.3L173.9 65.0L171.9 65.0L171.7 64.8L166.4 64.5L166.2 64.3L163.9 64.3L163.7 64.0L159.9 63.8L159.7 63.5L158.2 63.5L157.9 63.3L155.7 63.0L155.4 62.8L154.7 62.8L154.4 62.5L153.7 62.5L153.4 62.3L152.2 62.0L149.2 60.5L147.4 59.3L138.7 50.0L136.7 48.8L136.2 48.8L135.4 48.3L134.4 48.3L134.2 48.0L132.2 48.0L131.9 48.3L130.9 48.3L130.7 48.5L129.4 48.8L121.5 52.8L121.0 52.8L120.2 53.3L119.7 53.3L119.5 53.5L118.2 53.8L117.5 54.3L115.5 54.8L114.7 55.3L112.7 55.8L112.0 56.3L111.5 56.3L110.7 56.8L109.5 57.0L108.7 57.5L108.2 57.5L107.2 58.0L106.5 58.0L106.2 58.3L104.5 58.5L104.2 58.8L99.7 58.8L99.5 58.5L98.7 58.5L97.2 57.8L95.0 55.3L94.2 53.3L94.2 52.5L94.0 52.3L93.7 49.5L93.5 49.3L93.5 47.8L93.2 47.5L93.0 45.8L91.7 43.5L88.7 40.5L87.2 38.5L86.5 37.0L86.2 34.5L86.0 34.3L86.5 19.3Z"/>
<path fill-rule="evenodd" fill="#f8583c" d="M29.9 147.8L27.4 148.8L24.7 151.8L24.7 167.1L26.7 170.1L28.4 171.6L30.2 172.3L32.5 172.3L36.0 170.6L38.7 167.8L39.7 166.3L40.7 164.3L40.7 163.8L41.2 162.8L41.2 162.1L41.5 161.8L41.5 160.8L41.7 160.6L41.7 157.3L41.5 157.1L41.2 155.3L39.7 152.3L37.0 149.6L36.2 149.3L35.2 148.6L34.7 148.6L33.7 148.1L33.0 148.1L32.7 147.8ZM68.2 65.8L68.0 67.3L67.7 67.5L67.7 69.5L68.2 70.8L69.7 72.3L72.2 73.3L75.7 73.5L76.0 73.8L81.0 74.0L81.2 74.3L82.5 74.3L82.7 74.5L85.2 75.0L88.2 76.8L89.2 77.8L90.2 79.5L90.2 80.5L90.5 80.8L90.2 81.0L90.2 82.0L89.2 83.8L87.0 86.0L81.7 89.8L79.2 92.0L77.5 95.0L77.2 96.8L77.0 97.0L77.0 106.0L77.2 106.3L77.2 109.5L77.5 109.8L77.7 113.0L78.0 113.3L78.0 114.0L78.2 114.3L78.5 115.5L79.2 117.0L81.0 119.0L82.2 119.8L82.7 119.8L83.7 120.3L87.5 120.3L87.7 120.0L88.7 120.0L89.0 119.8L91.0 119.3L91.7 118.8L92.2 118.8L104.2 112.8L104.7 112.3L106.2 111.5L108.7 109.3L110.2 107.3L112.5 103.3L114.5 101.3L117.0 100.3L122.5 100.3L122.7 100.5L124.5 100.5L124.7 100.8L126.0 100.8L126.2 101.0L128.2 101.3L130.2 102.3L131.9 104.0L134.4 109.8L137.2 112.8L141.4 115.0L141.9 115.0L144.9 116.5L146.7 117.0L147.9 117.8L148.4 117.8L150.4 118.8L150.9 118.8L152.7 119.5L153.4 119.5L153.7 119.8L155.2 119.8L155.4 120.0L160.7 120.0L160.9 119.8L164.7 119.8L164.9 119.5L185.4 119.5L185.7 119.3L187.2 119.3L187.4 119.0L188.2 119.0L188.4 118.8L189.7 118.5L191.7 117.3L193.9 114.5L195.2 111.8L195.2 111.0L195.7 109.8L195.7 105.8L195.4 105.5L195.2 103.8L194.9 103.5L194.9 103.0L194.7 102.8L194.7 102.3L194.4 102.0L193.9 100.0L193.4 99.3L193.4 98.8L192.9 97.8L192.9 97.0L192.4 96.0L192.4 92.8L194.7 87.5L194.7 85.3L193.9 84.0L191.4 81.5L189.4 78.8L186.9 73.5L185.4 71.3L183.7 69.5L180.4 67.8L177.9 67.3L177.7 67.0L174.7 66.8L174.4 66.5L171.9 66.5L171.7 66.3L167.4 66.3L167.2 66.0L163.4 66.0L163.2 65.8L160.4 65.8L160.2 65.5L156.2 65.3L155.9 65.0L154.7 65.0L154.4 64.8L153.4 64.8L151.4 64.0L150.7 64.0L147.4 62.5L145.9 61.5L138.9 54.3L136.9 53.0L135.4 52.8L135.2 52.5L132.9 52.5L132.7 52.8L131.2 53.0L128.2 54.5L125.2 56.5L121.5 58.5L121.0 58.5L119.2 59.5L118.7 59.5L118.0 60.0L117.5 60.0L116.7 60.5L116.2 60.5L115.5 61.0L115.0 61.0L114.2 61.5L113.7 61.5L113.0 62.0L111.7 62.3L111.0 62.8L110.5 62.8L108.7 63.5L108.0 63.5L107.0 64.0L106.2 64.0L105.0 64.5L104.0 64.5L103.7 64.8L102.2 64.8L102.0 65.0L97.5 65.0L97.2 64.8L96.2 64.8L96.0 64.5L94.7 64.3L93.0 63.3L90.2 60.5L86.0 53.8L84.2 52.3L83.0 51.8L82.2 51.8L82.0 51.5L81.0 51.5L80.7 51.8L80.0 51.8L79.7 52.0L78.5 52.3L76.5 53.5L74.5 55.3L74.5 55.5L72.5 57.8L71.0 60.5L70.5 61.0Z"/>
<path fill-rule="evenodd" fill="#f42a2a" d="M30.4 150.1L30.2 150.3L28.7 150.6L27.2 151.6L25.9 153.1L25.2 154.6L25.2 155.1L24.7 155.6L24.7 162.6L25.2 163.1L25.4 164.3L26.4 166.1L28.4 168.1L29.7 168.6L30.4 168.6L30.7 168.8L31.9 168.8L32.2 168.6L33.7 168.3L35.2 167.6L36.2 166.8L38.0 164.8L39.5 161.6L39.5 160.6L39.7 160.3L39.7 157.3L38.7 154.6L37.0 152.3L35.2 151.1L34.2 150.8L33.5 150.3ZM80.7 103.3L80.7 109.0L81.0 109.3L81.0 110.8L81.2 111.0L81.5 112.5L82.2 114.0L83.7 115.5L85.0 116.0L87.7 116.0L88.0 115.8L88.7 115.8L89.0 115.5L90.2 115.3L91.0 114.8L91.5 114.8L96.5 112.3L97.0 111.8L98.2 111.3L101.2 109.3L104.0 106.3L105.5 102.8L105.7 100.3L106.0 100.0L106.0 98.0L106.2 97.8L106.2 95.0L106.5 94.8L106.5 93.3L106.7 93.0L107.0 91.3L108.5 88.8L110.0 87.3L112.0 85.8L113.2 84.5L113.2 84.3L118.0 79.8L120.0 78.8L121.5 78.5L121.7 78.3L125.0 78.3L127.5 79.3L129.4 81.3L130.4 83.3L130.9 83.8L131.9 86.0L133.9 88.0L135.7 89.0L136.2 89.0L136.9 89.5L137.4 89.5L138.2 90.0L138.7 90.0L139.4 90.5L140.4 90.8L141.9 91.8L142.9 92.8L143.7 94.3L143.7 96.8L143.4 97.0L143.4 97.8L141.7 102.5L141.7 103.5L141.4 103.8L141.4 105.5L141.7 105.8L141.7 106.5L142.7 108.3L143.9 109.5L148.4 112.0L148.9 112.0L149.7 112.5L151.2 112.8L152.2 113.3L154.2 113.5L154.4 113.8L155.9 113.8L156.2 114.0L158.9 114.0L159.2 114.3L168.4 114.3L168.7 114.5L172.4 114.5L172.7 114.8L180.7 114.8L180.9 114.5L182.4 114.5L182.7 114.3L184.7 114.0L186.9 113.0L189.4 110.8L190.4 108.5L190.4 105.3L189.2 102.5L188.4 101.5L186.4 99.8L183.9 98.5L182.2 98.0L178.9 96.3L177.9 95.3L177.7 95.3L176.4 93.8L175.7 92.5L175.7 92.0L175.2 91.0L175.2 89.0L175.9 87.3L177.2 86.0L178.7 85.0L181.2 83.8L181.7 83.8L183.4 82.8L184.9 81.3L185.4 80.3L185.4 79.8L185.7 79.5L185.7 76.8L185.4 76.5L185.4 75.5L184.4 73.0L183.4 71.5L182.4 70.5L179.9 69.0L179.4 69.0L178.4 68.5L177.7 68.5L177.4 68.3L176.4 68.3L176.2 68.0L174.4 68.0L174.2 67.8L169.7 67.8L169.4 67.5L161.4 67.5L161.2 67.3L157.7 67.3L157.4 67.0L154.9 67.0L154.7 66.8L152.9 66.8L152.7 66.5L151.4 66.5L151.2 66.3L149.2 66.0L148.9 65.8L146.9 65.3L144.4 64.0L143.4 63.3L138.4 58.0L137.4 57.3L135.4 56.5L133.7 56.5L133.4 56.8L131.9 57.0L129.4 58.3L128.9 58.8L128.2 59.0L127.0 60.0L125.2 60.8L124.7 61.3L123.7 61.8L123.2 61.8L120.5 63.3L120.0 63.3L118.2 64.3L117.7 64.3L116.5 65.0L116.0 65.0L114.7 65.8L114.2 65.8L113.0 66.5L112.5 66.5L109.2 68.0L108.7 68.0L108.5 68.3L107.2 68.5L106.5 69.0L105.2 69.3L104.5 69.8L104.0 69.8L101.5 71.0L100.0 72.5L99.5 73.8L99.5 76.0L99.7 76.3L99.7 77.5L100.0 77.8L100.0 79.0L100.2 79.3L100.2 82.0L99.5 83.8L97.2 86.0L94.5 87.5L94.0 88.0L92.7 88.5L92.2 89.0L91.0 89.5L90.5 90.0L89.7 90.3L86.7 92.3L84.0 94.8L82.7 96.5L81.7 98.5L81.2 101.0L81.0 101.3L81.0 103.0Z"/>
<path d="M24.0 19.0L63.0 19.0L58.0 30.0L55.0 45.0L53.0 57.0L54.0 70.0L53.5 90.0L56.0 110.0L57.0 117.0L53.0 125.0L48.0 129.5L45.0 134.0L42.5 139.0L39.5 144.0L37.5 148.5L37.3 154.0L37.2 160.0L38.0 167.5L37.5 177.0L34.0 182.5L31.5 189.5L30.8 198.0L28.0 208.5L24.0 208.5Z" fill="#fff"/>
<path d="M160 79L164 80.5L165.5 85L163.2 90L159.2 89L157 84Z" fill="#d8102a"/><circle cx="171.8" cy="78.5" r="0.9" fill="#d8102a"/>
<path d="M37.3 148L42.5 146L42.6 149L41.2 160L40.8 167.5L37.8 168L37 155Z" fill="#f42a2a"/>
<path d="M32.5 189L36.8 186L36.8 208.5L32.5 208.5L31.5 198Z" fill="#f8583c"/>
<path d="M78.5 94.2L80.7 97.5L81.2 107.3L81.7 116.0L81.2 130.0L80.8 135.0L76.8 150.5L73.6 172.3L70.3 181.0L68.1 182.0L67.0 181.0L64.8 172.3L63.7 150.5L64.8 135.0L65.9 130.0L68.1 119.3L71.4 112.8L74.1 107.3L75.7 102.9Z" fill="#fff" stroke="#000" stroke-width="1.3" stroke-linejoin="round"/>
<path d="M226.8 18.9L229.4 28.1L233.3 38.6L237.9 47.8L241.2 54.3L245.1 59.5L253.0 66.1L253.0 58.2L247.8 54.3L242.5 51.7L242.5 34.7L241.2 26.8L238.6 22.9L235.3 18.9Z" fill="#fff" stroke="#000" stroke-width="1.3" stroke-linejoin="round"/>
<path d="M24.0 19.0L59.7 19.0L56.0 26.0L52.5 32.1L50.5 42.0L49.2 51.7L48.6 57.0L50.5 63.5L51.2 79.0L51.5 95.0L53.4 105.0L54.6 115.5L51.3 123.1L46.9 127.5L43.7 131.8L41.5 137.3L38.2 142.8L36.6 148.2L36.6 153.7L36.5 160.0L37.3 167.5L36.5 176.6L32.7 181.2L30.4 188.9L29.6 198.0L26.6 207.2L24.0 208.5" fill="none" stroke="#000" stroke-width="1.8" stroke-linejoin="round"/>
<path d="M28.3 19L28.6 26L29.2 32.5L31 32L33.2 31L34.8 25.5L35.6 19" fill="#fff" stroke="#000" stroke-width="1.7" stroke-linejoin="round"/>
<path d="M35.2 78.8L36 88L37.5 98L38.9 107" fill="none" stroke="#000" stroke-width="2.2" stroke-linecap="round"/>
<path d="M25.3 59L26 66L26.5 73" fill="none" stroke="#000" stroke-width="1.3"/>
<path d="M37.6 104L38 110" fill="none" stroke="#000" stroke-width="2"/>
<ellipse cx="222.9" cy="24.8" rx="1.3" ry="2.8" fill="#000"/>
<ellipse cx="241.9" cy="28.1" rx="1.5" ry="2.2" fill="#000"/>
<ellipse cx="248.4" cy="34.7" rx="1.3" ry="2.2" fill="#000"/>
<circle cx="56.8" cy="52.3" r="0.8" fill="#000"/><circle cx="85.6" cy="84.4" r="0.7" fill="#000"/>
<circle cx="96.8" cy="154.1" r="1.5" fill="#000"/>
<ellipse cx="103" cy="147" rx="0.9" ry="1.4" fill="#000"/>
<path d="M192.7 82.0L197.0 89.1L199.8 96.3L199.1 107.6L195.6 121.8L191.3 123.2L170.0 119.7L165.0 117.9L155.9 116.1L146.2 119.1L136.4 119.7L130.3 115.5L125.5 106.9L119.4 102.7L113.3 103.3L100.9 114.9L93.2 121.5L87.8 122.6L81.7 118.2L81.2 107.3L80.7 97.5L78.5 94.2L76.8 94.2L74.7 90.4L71.4 90.9L68.1 88.7L66.0 84.0L63.0 75.0L61.1 65.7L62.3 63.3L67.2 60.2L76.3 49.9L83.0 56.0L91.5 62.0L98.8 61.4L107.4 64.5L115.0 62.5L124.7 57.1L136.9 51.6L144.2 52.8L149.1 55.8L155.2 61.3L161.3 62.5L168.6 61.3L175.9 63.8L178.5 65.0L181.2 69.0" fill="none" stroke="#000" stroke-width="1.1" stroke-linejoin="round"/>
<path d="M74.5 78L81.2 77.3L80 82.8L76.9 84Z" fill="none" stroke="#000" stroke-width="1"/>
<path d="M129.7 104.5L134 96L141.3 95.4L146.8 97.8L140 106.9L132.8 110.6Z" fill="none" stroke="#000" stroke-width="1"/>
<path d="M80.3 207L81.5 199L83 196L84 200L83.5 207" fill="none" stroke="#000" stroke-width="1"/>
<path d="M55.7 120.9L50.2 131.8L44.7 141.7L41.5 147.1L40.4 160L40.3 183.5" fill="none" stroke="#000" stroke-width="1"/><path d="M38 197.5L37 203L36.5 208.5" fill="none" stroke="#000" stroke-width="1"/>
<path d="M253.0 67.4L239.9 64.8L222.9 53.0L215.4 45.2L206.0 48.3L198.2 48.3L188.2 37.3L182.0 35.8L177.3 45.2L183.6 57.7L190.3 64.7L201.3 75.6L210.7 81.9L223.2 83.5L229.5 91.3L234.2 100.7L232.6 110.0L226.3 111.0L229.5 118.8L235.7 129.7L243.6 123.5L253.0 109.4" fill="none" stroke="#000" stroke-width="1" stroke-dasharray="2.2 1.6"/>
<ellipse cx="158.8" cy="45.4" rx="2.2" ry="1.2" fill="none" stroke="#000" stroke-width="1.1"/>
<path d="M88 145L91.5 144.5L95 152L96 158L93 162L88.5 158L86 150Z" fill="none" stroke="#000" stroke-width="1" stroke-dasharray="2.2 1.6"/>
<path d="M148.7 207.6L147.9 201.3L144.8 199.7L138.5 198.2L135.4 193.5L135.4 182.5L137 181L143.2 184.1L147.9 184.9L152.6 177.8L158.9 173.1L163.6 171.6L166.7 174.7L167.5 179.4L165.1 193.5L163.6 207.6" fill="none" stroke="#000" stroke-width="1" stroke-dasharray="2.2 1.6"/>
<path d="M201.3 207.3L207.6 196.3L217 197.1L218.5 202.6L210.7 202.6L209.1 207.3" fill="none" stroke="#000" stroke-width="1" stroke-dasharray="2.2 1.6"/>
<path d="M253 140L238.9 147.8L238.9 161.9L246.7 166.6L253 165" fill="none" stroke="#000" stroke-width="1" stroke-dasharray="2.2 1.6"/>
<path d="M253 184L248.2 190L251.4 202.6L253 204" fill="none" stroke="#000" stroke-width="1" stroke-dasharray="2.2 1.6"/>
</g>
<rect x="67" y="48.8" width="157.8" height="130.1" fill="none" stroke="#000" stroke-width="2"/>

<g font-family='"Liberation Sans", sans-serif' font-size="6.5" fill="#000">
<g transform="translate(181,72) rotate(48)"><text x="0" y="0">0.37</text></g>
<g transform="translate(227,87.5) rotate(60)"><text x="0" y="0">0.37</text></g>
<g transform="translate(40.8,197) rotate(-90)"><text x="0" y="0">0.37</text></g>
</g>
<rect x="24.7" y="19.3" width="228.1" height="189.0" fill="none" stroke="#000" stroke-width="1.3"/>
<path d="M20.2 29.0H24.7M252.8 29.0H257.3M20.2 42.1H24.7M252.8 42.1H257.3M20.2 55.1H24.7M252.8 55.1H257.3M20.2 68.2H24.7M252.8 68.2H257.3M20.2 81.2H24.7M252.8 81.2H257.3M20.2 94.3H24.7M252.8 94.3H257.3M20.2 107.4H24.7M252.8 107.4H257.3M20.2 120.4H24.7M252.8 120.4H257.3M20.2 133.5H24.7M252.8 133.5H257.3M20.2 146.5H24.7M252.8 146.5H257.3M20.2 159.6H24.7M252.8 159.6H257.3M20.2 172.7H24.7M252.8 172.7H257.3M20.2 185.7H24.7M252.8 185.7H257.3M20.2 198.8H24.7M252.8 198.8H257.3M66.5 14.3V19.3M66.5 208.3V213.8M109.7 14.3V19.3M109.7 208.3V213.8M152.8 14.3V19.3M152.8 208.3V213.8M196.0 14.3V19.3M196.0 208.3V213.8M239.2 14.3V19.3M239.2 208.3V213.8" stroke="#000" stroke-width="1.1" fill="none"/>
<g font-family='"Liberation Sans", sans-serif' font-size="6.8" font-weight="bold" fill="#000"><text x="17" y="44.5" text-anchor="end">4&#176;S</text><text x="17" y="70.6" text-anchor="end">8&#176;S</text><text x="17" y="96.7" text-anchor="end">12&#176;S</text><text x="17" y="122.8" text-anchor="end">16&#176;S</text><text x="17" y="148.9" text-anchor="end">20&#176;S</text><text x="17" y="175.1" text-anchor="end">24&#176;S</text><text x="17" y="201.2" text-anchor="end">28&#176;S</text><text x="66.5" y="222.5" text-anchor="middle">45&#176;E</text><text x="152.8" y="222.5" text-anchor="middle">75&#176;E</text><text x="239.2" y="222.5" text-anchor="middle">105&#176;E</text></g>
<rect x="262.2" y="21.50" width="13.3" height="11.77" fill="#b0001e" stroke="#000" stroke-width="0.9"/>
<rect x="262.2" y="33.27" width="13.3" height="11.77" fill="#d8102a" stroke="#000" stroke-width="0.9"/>
<rect x="262.2" y="45.04" width="13.3" height="11.77" fill="#f42a2a" stroke="#000" stroke-width="0.9"/>
<rect x="262.2" y="56.81" width="13.3" height="11.77" fill="#f8583c" stroke="#000" stroke-width="0.9"/>
<rect x="262.2" y="68.58" width="13.3" height="11.77" fill="#fa9a60" stroke="#000" stroke-width="0.9"/>
<rect x="262.2" y="80.34" width="13.3" height="11.77" fill="#fdd090" stroke="#000" stroke-width="0.9"/>
<rect x="262.2" y="92.11" width="13.3" height="11.77" fill="#fdebc0" stroke="#000" stroke-width="0.9"/>
<rect x="262.2" y="103.88" width="13.3" height="11.77" fill="#fffde8" stroke="#000" stroke-width="0.9"/>
<rect x="262.2" y="115.65" width="13.3" height="11.77" fill="#e8fcff" stroke="#000" stroke-width="0.9"/>
<rect x="262.2" y="127.42" width="13.3" height="11.77" fill="#b4f0fc" stroke="#000" stroke-width="0.9"/>
<rect x="262.2" y="139.19" width="13.3" height="11.77" fill="#8ee0f8" stroke="#000" stroke-width="0.9"/>
<rect x="262.2" y="150.96" width="13.3" height="11.77" fill="#64c0f8" stroke="#000" stroke-width="0.9"/>
<rect x="262.2" y="162.73" width="13.3" height="11.77" fill="#3c8cf0" stroke="#000" stroke-width="0.9"/>
<rect x="262.2" y="174.49" width="13.3" height="11.77" fill="#2860f0" stroke="#000" stroke-width="0.9"/>
<rect x="262.2" y="186.26" width="13.3" height="11.77" fill="#1a2ee8" stroke="#000" stroke-width="0.9"/>
<rect x="262.2" y="198.03" width="13.3" height="11.77" fill="#2010d0" stroke="#000" stroke-width="0.9"/>
<g font-family='"Liberation Sans", sans-serif' font-size="6.8" font-weight="bold" fill="#000"><text x="295" y="23.9" text-anchor="end">0.8</text><text x="295" y="35.7" text-anchor="end">0.7</text><text x="295" y="47.4" text-anchor="end">0.6</text><text x="295" y="59.2" text-anchor="end">0.5</text><text x="295" y="71.0" text-anchor="end">0.4</text><text x="295" y="82.7" text-anchor="end">0.3</text><text x="295" y="94.5" text-anchor="end">0.2</text><text x="295" y="106.3" text-anchor="end">0.1</text><text x="295" y="118.1" text-anchor="end">0</text><text x="295" y="129.8" text-anchor="end">&#8211;0.1</text><text x="295" y="141.6" text-anchor="end">&#8211;0.2</text><text x="295" y="153.4" text-anchor="end">&#8211;0.3</text><text x="295" y="165.1" text-anchor="end">&#8211;0.4</text><text x="295" y="176.9" text-anchor="end">&#8211;0.5</text><text x="295" y="188.7" text-anchor="end">&#8211;0.6</text><text x="295" y="200.4" text-anchor="end">&#8211;0.7</text><text x="295" y="212.2" text-anchor="end">&#8211;0.8</text></g>
<text x="29" y="9.6" font-family='"Liberation Serif", serif' font-size="13.5" font-weight="bold">(a)</text>
<path d="M357.3 35.7V183.7" stroke="#000" stroke-width="1.60"/>
<path d="M357.3 183.7H570.5" stroke="#000" stroke-width="1.60"/>
<path d="M357.5 183.7V189.7M410.6 183.7V189.7M463.7 183.7V189.7M516.8 183.7V189.7M569.9 183.7V189.7" stroke="#000" stroke-width="1.60"/>
<path d="M351.3 183.7H357.3M351.3 159.1H357.3M351.3 134.4H357.3M351.3 109.7H357.3M351.3 85.0H357.3M351.3 60.4H357.3M351.3 35.7H357.3" stroke="#000" stroke-width="1.60"/>
<path d="M379.0 134.4L547.0 64.7" stroke="#000" stroke-width="1.5" stroke-dasharray="5.4 2.9"/>
<g fill="#000"><circle cx="380.2" cy="120.0" r="2.3"/><circle cx="406.8" cy="147.3" r="2.3"/><circle cx="441.8" cy="168.3" r="2.3"/><circle cx="467.4" cy="162.6" r="2.3"/><circle cx="479.0" cy="120.8" r="2.3"/><circle cx="480.0" cy="98.1" r="2.3"/><circle cx="458.2" cy="97.9" r="2.3"/><circle cx="446.3" cy="101.7" r="2.3"/><circle cx="431.4" cy="93.3" r="2.3"/><circle cx="435.0" cy="72.7" r="2.3"/><circle cx="452.7" cy="66.7" r="2.3"/><circle cx="470.4" cy="90.4" r="2.3"/><circle cx="481.4" cy="79.4" r="2.3"/><circle cx="490.3" cy="89.7" r="2.3"/><circle cx="488.1" cy="57.3" r="2.3"/><circle cx="517.2" cy="56.8" r="2.3"/><circle cx="521.3" cy="71.9" r="2.3"/><circle cx="553.7" cy="71.9" r="2.3"/></g>
<g font-family='"Liberation Sans", sans-serif' font-size="9.3" font-weight="bold"><text transform="translate(357.5,200.1) scale(0.92,1)" text-anchor="middle">45</text><text transform="translate(410.6,200.1) scale(0.92,1)" text-anchor="middle">50</text><text transform="translate(463.7,200.1) scale(0.92,1)" text-anchor="middle">55</text><text transform="translate(516.8,200.1) scale(0.92,1)" text-anchor="middle">60</text><text transform="translate(569.9,200.1) scale(0.92,1)" text-anchor="middle">65</text><text transform="translate(348.5,185.8) scale(0.92,1)" text-anchor="end">7.35</text><text transform="translate(348.5,161.2) scale(0.92,1)" text-anchor="end">7.40</text><text transform="translate(348.5,136.5) scale(0.92,1)" text-anchor="end">7.45</text><text transform="translate(348.5,111.8) scale(0.92,1)" text-anchor="end">7.50</text><text transform="translate(348.5,87.1) scale(0.92,1)" text-anchor="end">7.55</text><text transform="translate(348.5,62.5) scale(0.92,1)" text-anchor="end">7.60</text><text transform="translate(348.5,37.8) scale(0.92,1)" text-anchor="end">7.65</text></g>
<text x="369" y="54.4" font-family='"Liberation Sans", sans-serif' font-size="8.8" font-weight="bold">r = 0.54; p = 0.03</text>
<text transform="translate(327,157.5) rotate(-90)" font-family='"Liberation Sans", sans-serif' font-size="10.5" font-weight="bold">UOHC (x 10<tspan font-size="6.5" dy="-4">10</tspan><tspan dy="4"> Jm</tspan><tspan font-size="6.5" dy="-4">-2</tspan><tspan dy="4">)</tspan></text>
<text x="422" y="217.8" font-family='"Liberation Serif", serif' font-size="11" font-weight="bold">Intensity (m s<tspan font-size="7" dy="-4.5">-1</tspan><tspan dy="4.5">)</tspan></text>
<text x="369.5" y="13" font-family='"Liberation Serif", serif' font-size="13" font-weight="bold">(b)</text>
<path d="M63.3 261.5V425.0" stroke="#7a7a7a" stroke-width="1.60"/>
<path d="M63.3 425.0H273.3" stroke="#8a8a8a" stroke-width="1.60"/>
<path d="M63.2 425.0V431.0M115.6 425.0V431.0M167.9 425.0V431.0M220.3 425.0V431.0M272.7 425.0V431.0" stroke="#8a8a8a" stroke-width="1.60"/>
<path d="M57.3 408.4H63.3M57.3 375.8H63.3M57.3 343.2H63.3M57.3 310.6H63.3M57.3 278.0H63.3" stroke="#7a7a7a" stroke-width="1.60"/>
<path d="M81.5 397.0L257.3 344.4" stroke="#000" stroke-width="1.5" stroke-dasharray="5.4 2.9"/>
<g fill="#000"><circle cx="81.8" cy="405.0" r="2.3"/><circle cx="85.0" cy="393.5" r="2.3"/><circle cx="85.0" cy="365.7" r="2.3"/><circle cx="95.2" cy="399.3" r="2.3"/><circle cx="107.0" cy="391.3" r="2.3"/><circle cx="111.5" cy="392.7" r="2.3"/><circle cx="113.0" cy="394.3" r="2.3"/><circle cx="113.4" cy="377.8" r="2.3"/><circle cx="122.7" cy="393.2" r="2.3"/><circle cx="128.7" cy="400.0" r="2.3"/><circle cx="135.4" cy="389.0" r="2.3"/><circle cx="135.8" cy="356.5" r="2.3"/><circle cx="137.3" cy="375.5" r="2.3"/><circle cx="138.4" cy="390.7" r="2.3"/><circle cx="139.2" cy="361.4" r="2.3"/><circle cx="140.7" cy="393.3" r="2.3"/><circle cx="140.7" cy="396.0" r="2.3"/><circle cx="144.2" cy="383.9" r="2.3"/><circle cx="146.3" cy="389.2" r="2.3"/><circle cx="150.5" cy="331.2" r="2.3"/><circle cx="152.4" cy="405.8" r="2.3"/><circle cx="156.9" cy="345.2" r="2.3"/><circle cx="157.2" cy="372.8" r="2.3"/><circle cx="162.5" cy="356.0" r="2.3"/><circle cx="171.5" cy="405.6" r="2.3"/><circle cx="174.3" cy="399.7" r="2.3"/><circle cx="182.6" cy="404.8" r="2.3"/><circle cx="184.0" cy="285.1" r="2.3"/><circle cx="185.2" cy="339.6" r="2.3"/><circle cx="191.7" cy="360.8" r="2.3"/><circle cx="194.1" cy="359.8" r="2.3"/><circle cx="199.2" cy="406.0" r="2.3"/><circle cx="218.1" cy="372.5" r="2.3"/><circle cx="220.8" cy="362.9" r="2.3"/><circle cx="224.4" cy="346.8" r="2.3"/><circle cx="257.0" cy="326.4" r="2.3"/></g>
<g font-family='"Liberation Sans", sans-serif' font-size="9.3" font-weight="bold"><text transform="translate(63.2,442.2) scale(0.92,1)" text-anchor="middle">45</text><text transform="translate(115.6,442.2) scale(0.92,1)" text-anchor="middle">50</text><text transform="translate(167.9,442.2) scale(0.92,1)" text-anchor="middle">55</text><text transform="translate(220.3,442.2) scale(0.92,1)" text-anchor="middle">60</text><text transform="translate(272.7,442.2) scale(0.92,1)" text-anchor="middle">65</text><text transform="translate(53,411.0) scale(0.92,1)" text-anchor="end">4</text><text transform="translate(53,378.4) scale(0.92,1)" text-anchor="end">8</text><text transform="translate(53,345.8) scale(0.92,1)" text-anchor="end">12</text><text transform="translate(53,313.2) scale(0.92,1)" text-anchor="end">16</text><text transform="translate(53,280.6) scale(0.92,1)" text-anchor="end">20</text></g>
<text x="76" y="278.2" font-family='"Liberation Sans", sans-serif' font-size="7.5" font-weight="bold">r = 0.45; p = 0.005</text>
<text transform="translate(39.5,366.5) rotate(-90)" font-family='"Liberation Sans", sans-serif' font-size="9" font-weight="bold">Durations (days)</text>
<text x="149.7" y="454.4" font-family='"Liberation Sans", sans-serif' font-size="9" font-weight="bold">Intensity (ms<tspan font-size="6" dy="-4.5">-1</tspan><tspan dy="4.5">)</tspan></text>
<text x="74.6" y="257" font-family='"Liberation Serif", serif' font-size="13" font-weight="bold">(c)</text>
<path d="M327.2 262.2V425.0" stroke="#111" stroke-width="1.60"/>
<path d="M327.2 425.0H537.1" stroke="#333" stroke-width="1.60"/>
<path d="M327.3 425.0V431.0M379.6 425.0V431.0M431.9 425.0V431.0M484.2 425.0V431.0M536.5 425.0V431.0" stroke="#333" stroke-width="1.60"/>
<path d="M321.2 425.0H327.2M321.2 397.9H327.2M321.2 370.7H327.2M321.2 343.6H327.2M321.2 316.5H327.2M321.2 289.4H327.2M321.2 262.2H327.2" stroke="#111" stroke-width="1.60"/>
<path d="M345.3 337.2L521.8 393.6" stroke="#000" stroke-width="1.5" stroke-dasharray="5.4 2.9"/>
<g fill="#000"><circle cx="345.7" cy="326.5" r="2.3"/><circle cx="349.2" cy="322.8" r="2.3"/><circle cx="348.9" cy="400.0" r="2.3"/><circle cx="359.0" cy="363.0" r="2.3"/><circle cx="371.4" cy="361.3" r="2.3"/><circle cx="375.3" cy="343.2" r="2.3"/><circle cx="377.5" cy="331.2" r="2.3"/><circle cx="377.2" cy="332.8" r="2.3"/><circle cx="386.8" cy="335.6" r="2.3"/><circle cx="392.7" cy="339.6" r="2.3"/><circle cx="399.5" cy="332.1" r="2.3"/><circle cx="399.8" cy="395.5" r="2.3"/><circle cx="401.2" cy="356.2" r="2.3"/><circle cx="402.6" cy="346.9" r="2.3"/><circle cx="403.4" cy="376.1" r="2.3"/><circle cx="404.6" cy="353.9" r="2.3"/><circle cx="404.9" cy="290.0" r="2.3"/><circle cx="408.0" cy="343.5" r="2.3"/><circle cx="410.2" cy="333.8" r="2.3"/><circle cx="414.4" cy="396.7" r="2.3"/><circle cx="416.4" cy="354.8" r="2.3"/><circle cx="421.1" cy="397.6" r="2.3"/><circle cx="421.3" cy="348.0" r="2.3"/><circle cx="426.3" cy="405.3" r="2.3"/><circle cx="435.6" cy="308.8" r="2.3"/><circle cx="438.5" cy="358.0" r="2.3"/><circle cx="446.9" cy="332.1" r="2.3"/><circle cx="447.8" cy="404.5" r="2.3"/><circle cx="449.3" cy="377.3" r="2.3"/><circle cx="455.6" cy="390.3" r="2.3"/><circle cx="457.9" cy="393.4" r="2.3"/><circle cx="463.2" cy="331.2" r="2.3"/><circle cx="481.9" cy="394.0" r="2.3"/><circle cx="484.8" cy="378.0" r="2.3"/><circle cx="488.6" cy="389.6" r="2.3"/><circle cx="521.3" cy="410.2" r="2.3"/></g>
<g font-family='"Liberation Sans", sans-serif' font-size="9.3" font-weight="bold"><text transform="translate(327.3,442.3) scale(0.92,1)" text-anchor="middle">45</text><text transform="translate(379.6,442.3) scale(0.92,1)" text-anchor="middle">50</text><text transform="translate(431.9,442.3) scale(0.92,1)" text-anchor="middle">55</text><text transform="translate(484.2,442.3) scale(0.92,1)" text-anchor="middle">60</text><text transform="translate(536.5,442.3) scale(0.92,1)" text-anchor="middle">65</text><text transform="translate(317.5,427.6) scale(0.92,1)" text-anchor="end">1</text><text transform="translate(317.5,400.5) scale(0.92,1)" text-anchor="end">2</text><text transform="translate(317.5,373.3) scale(0.92,1)" text-anchor="end">3</text><text transform="translate(317.5,346.2) scale(0.92,1)" text-anchor="end">4</text><text transform="translate(317.5,319.1) scale(0.92,1)" text-anchor="end">5</text><text transform="translate(317.5,292.0) scale(0.92,1)" text-anchor="end">6</text><text transform="translate(317.5,264.8) scale(0.92,1)" text-anchor="end">7</text></g>
<text x="332" y="274.2" font-family='"Liberation Sans", sans-serif' font-size="7.5" font-weight="bold">r = - 0.48; p = 0.008</text>
<text transform="translate(303.5,386.6) rotate(-90)" font-family='"Liberation Sans", sans-serif' font-size="9.2" font-weight="bold">Translation speed (ms<tspan font-size="5.5" dy="-4">-1</tspan><tspan dy="4">)</tspan></text>
<text x="404.7" y="455.5" font-family='"Liberation Sans", sans-serif' font-size="9" font-weight="bold">Intensity (ms<tspan font-size="6" dy="-4.5">-1</tspan><tspan dy="4.5">)</tspan></text>
<text x="341.4" y="256.8" font-family='"Liberation Serif", serif' font-size="13" font-weight="bold">(d)</text>
</svg></body></html>
